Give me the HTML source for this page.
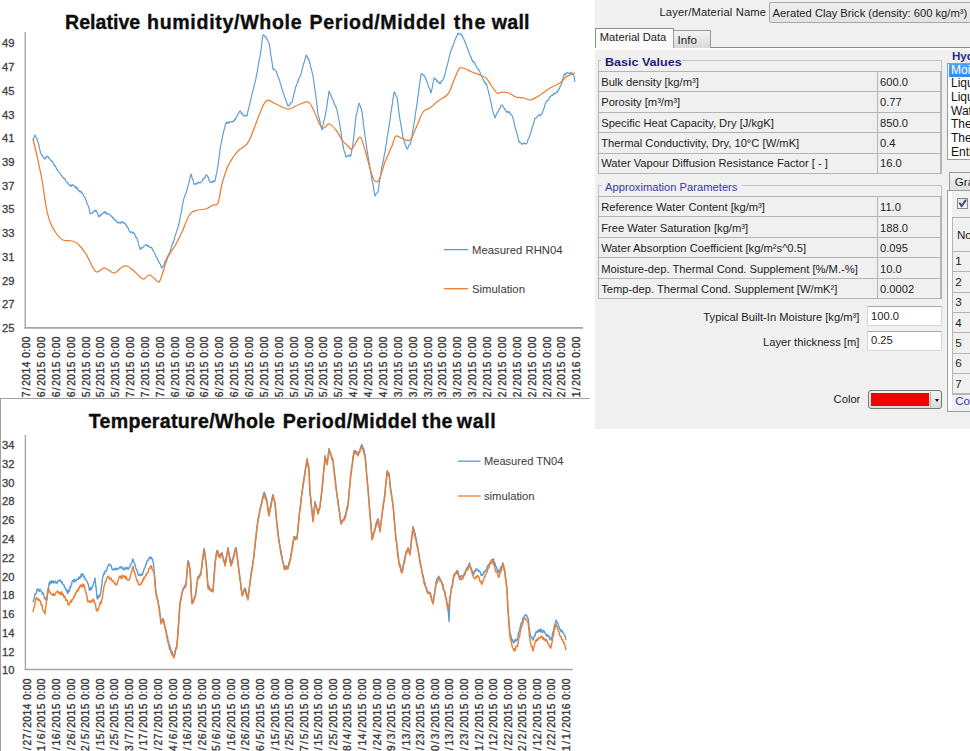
<!DOCTYPE html>
<html><head><meta charset="utf-8"><title>Charts and material dialog</title>
<style>
html,body{margin:0;padding:0;background:#fff;width:970px;height:751px;overflow:hidden;}
body{position:relative;font-family:"Liberation Sans",sans-serif;}
#charts{position:absolute;left:0;top:0;}
.dlg{position:absolute;left:595px;top:0;width:375px;height:428.5px;background:#f0f0f0;overflow:hidden;font-size:11.2px;color:#1e1e1e;}
.a{position:absolute;white-space:nowrap;}
</style></head><body>
<svg id="charts" width="970" height="751" viewBox="0 0 970 751" font-family="Liberation Sans, sans-serif"><g id="upper">
<text x="65" y="29.3" font-size="19.6" stroke="#0d0d0d" stroke-width="0.35" font-weight="bold" fill="#0d0d0d" textLength="75.2" lengthAdjust="spacing">Relative</text>
<text x="147" y="29.3" font-size="19.6" stroke="#0d0d0d" stroke-width="0.35" font-weight="bold" fill="#0d0d0d" textLength="154.6" lengthAdjust="spacing">humidity/Whole</text>
<text x="309.5" y="29.3" font-size="19.6" stroke="#0d0d0d" stroke-width="0.35" font-weight="bold" fill="#0d0d0d" textLength="136.0" lengthAdjust="spacing">Period/Middel</text>
<text x="453.7" y="29.3" font-size="19.6" stroke="#0d0d0d" stroke-width="0.35" font-weight="bold" fill="#0d0d0d" textLength="31.6" lengthAdjust="spacing">the</text>
<text x="491.8" y="29.3" font-size="19.6" stroke="#0d0d0d" stroke-width="0.35" font-weight="bold" fill="#0d0d0d" textLength="37.7" lengthAdjust="spacing">wall</text>
<line x1="25.2" y1="32" x2="25.2" y2="328.5" stroke="#a6a6a6" stroke-width="1.4"/>
<line x1="24.5" y1="327.9" x2="583" y2="327.9" stroke="#a6a6a6" stroke-width="1.6"/>
<text x="14.5" y="47.3" font-size="11.2" fill="#404040" stroke="#404040" stroke-width="0.3" text-anchor="end">49</text>
<text x="14.5" y="71.0" font-size="11.2" fill="#404040" stroke="#404040" stroke-width="0.3" text-anchor="end">47</text>
<text x="14.5" y="94.7" font-size="11.2" fill="#404040" stroke="#404040" stroke-width="0.3" text-anchor="end">45</text>
<text x="14.5" y="118.5" font-size="11.2" fill="#404040" stroke="#404040" stroke-width="0.3" text-anchor="end">43</text>
<text x="14.5" y="142.2" font-size="11.2" fill="#404040" stroke="#404040" stroke-width="0.3" text-anchor="end">41</text>
<text x="14.5" y="165.9" font-size="11.2" fill="#404040" stroke="#404040" stroke-width="0.3" text-anchor="end">39</text>
<text x="14.5" y="189.6" font-size="11.2" fill="#404040" stroke="#404040" stroke-width="0.3" text-anchor="end">37</text>
<text x="14.5" y="213.3" font-size="11.2" fill="#404040" stroke="#404040" stroke-width="0.3" text-anchor="end">35</text>
<text x="14.5" y="237.1" font-size="11.2" fill="#404040" stroke="#404040" stroke-width="0.3" text-anchor="end">33</text>
<text x="14.5" y="260.8" font-size="11.2" fill="#404040" stroke="#404040" stroke-width="0.3" text-anchor="end">31</text>
<text x="14.5" y="284.5" font-size="11.2" fill="#404040" stroke="#404040" stroke-width="0.3" text-anchor="end">29</text>
<text x="14.5" y="308.2" font-size="11.2" fill="#404040" stroke="#404040" stroke-width="0.3" text-anchor="end">27</text>
<text x="14.5" y="331.9" font-size="11.2" fill="#404040" stroke="#404040" stroke-width="0.3" text-anchor="end">25</text>
<text transform="translate(30.0,336) rotate(-90)" font-size="10.2" letter-spacing="0.5" fill="#383838" stroke="#383838" stroke-width="0.35" text-anchor="end">12<tspan dx="1.0">/</tspan><tspan dx="1.0">27</tspan><tspan dx="1.0">/</tspan><tspan dx="1.0">2014</tspan> 0:00</text>
<text transform="translate(44.9,336) rotate(-90)" font-size="10.2" letter-spacing="0.5" fill="#383838" stroke="#383838" stroke-width="0.35" text-anchor="end">1<tspan dx="1.0">/</tspan><tspan dx="1.0">6</tspan><tspan dx="1.0">/</tspan><tspan dx="1.0">2015</tspan> 0:00</text>
<text transform="translate(59.7,336) rotate(-90)" font-size="10.2" letter-spacing="0.5" fill="#383838" stroke="#383838" stroke-width="0.35" text-anchor="end">1<tspan dx="1.0">/</tspan><tspan dx="1.0">16</tspan><tspan dx="1.0">/</tspan><tspan dx="1.0">2015</tspan> 0:00</text>
<text transform="translate(74.6,336) rotate(-90)" font-size="10.2" letter-spacing="0.5" fill="#383838" stroke="#383838" stroke-width="0.35" text-anchor="end">1<tspan dx="1.0">/</tspan><tspan dx="1.0">26</tspan><tspan dx="1.0">/</tspan><tspan dx="1.0">2015</tspan> 0:00</text>
<text transform="translate(89.5,336) rotate(-90)" font-size="10.2" letter-spacing="0.5" fill="#383838" stroke="#383838" stroke-width="0.35" text-anchor="end">2<tspan dx="1.0">/</tspan><tspan dx="1.0">5</tspan><tspan dx="1.0">/</tspan><tspan dx="1.0">2015</tspan> 0:00</text>
<text transform="translate(104.4,336) rotate(-90)" font-size="10.2" letter-spacing="0.5" fill="#383838" stroke="#383838" stroke-width="0.35" text-anchor="end">2<tspan dx="1.0">/</tspan><tspan dx="1.0">15</tspan><tspan dx="1.0">/</tspan><tspan dx="1.0">2015</tspan> 0:00</text>
<text transform="translate(119.2,336) rotate(-90)" font-size="10.2" letter-spacing="0.5" fill="#383838" stroke="#383838" stroke-width="0.35" text-anchor="end">2<tspan dx="1.0">/</tspan><tspan dx="1.0">25</tspan><tspan dx="1.0">/</tspan><tspan dx="1.0">2015</tspan> 0:00</text>
<text transform="translate(134.1,336) rotate(-90)" font-size="10.2" letter-spacing="0.5" fill="#383838" stroke="#383838" stroke-width="0.35" text-anchor="end">3<tspan dx="1.0">/</tspan><tspan dx="1.0">7</tspan><tspan dx="1.0">/</tspan><tspan dx="1.0">2015</tspan> 0:00</text>
<text transform="translate(149.0,336) rotate(-90)" font-size="10.2" letter-spacing="0.5" fill="#383838" stroke="#383838" stroke-width="0.35" text-anchor="end">3<tspan dx="1.0">/</tspan><tspan dx="1.0">17</tspan><tspan dx="1.0">/</tspan><tspan dx="1.0">2015</tspan> 0:00</text>
<text transform="translate(163.8,336) rotate(-90)" font-size="10.2" letter-spacing="0.5" fill="#383838" stroke="#383838" stroke-width="0.35" text-anchor="end">3<tspan dx="1.0">/</tspan><tspan dx="1.0">27</tspan><tspan dx="1.0">/</tspan><tspan dx="1.0">2015</tspan> 0:00</text>
<text transform="translate(178.7,336) rotate(-90)" font-size="10.2" letter-spacing="0.5" fill="#383838" stroke="#383838" stroke-width="0.35" text-anchor="end">4<tspan dx="1.0">/</tspan><tspan dx="1.0">6</tspan><tspan dx="1.0">/</tspan><tspan dx="1.0">2015</tspan> 0:00</text>
<text transform="translate(193.6,336) rotate(-90)" font-size="10.2" letter-spacing="0.5" fill="#383838" stroke="#383838" stroke-width="0.35" text-anchor="end">4<tspan dx="1.0">/</tspan><tspan dx="1.0">16</tspan><tspan dx="1.0">/</tspan><tspan dx="1.0">2015</tspan> 0:00</text>
<text transform="translate(208.4,336) rotate(-90)" font-size="10.2" letter-spacing="0.5" fill="#383838" stroke="#383838" stroke-width="0.35" text-anchor="end">4<tspan dx="1.0">/</tspan><tspan dx="1.0">26</tspan><tspan dx="1.0">/</tspan><tspan dx="1.0">2015</tspan> 0:00</text>
<text transform="translate(223.3,336) rotate(-90)" font-size="10.2" letter-spacing="0.5" fill="#383838" stroke="#383838" stroke-width="0.35" text-anchor="end">5<tspan dx="1.0">/</tspan><tspan dx="1.0">6</tspan><tspan dx="1.0">/</tspan><tspan dx="1.0">2015</tspan> 0:00</text>
<text transform="translate(238.2,336) rotate(-90)" font-size="10.2" letter-spacing="0.5" fill="#383838" stroke="#383838" stroke-width="0.35" text-anchor="end">5<tspan dx="1.0">/</tspan><tspan dx="1.0">16</tspan><tspan dx="1.0">/</tspan><tspan dx="1.0">2015</tspan> 0:00</text>
<text transform="translate(253.1,336) rotate(-90)" font-size="10.2" letter-spacing="0.5" fill="#383838" stroke="#383838" stroke-width="0.35" text-anchor="end">5<tspan dx="1.0">/</tspan><tspan dx="1.0">26</tspan><tspan dx="1.0">/</tspan><tspan dx="1.0">2015</tspan> 0:00</text>
<text transform="translate(267.9,336) rotate(-90)" font-size="10.2" letter-spacing="0.5" fill="#383838" stroke="#383838" stroke-width="0.35" text-anchor="end">6<tspan dx="1.0">/</tspan><tspan dx="1.0">5</tspan><tspan dx="1.0">/</tspan><tspan dx="1.0">2015</tspan> 0:00</text>
<text transform="translate(282.8,336) rotate(-90)" font-size="10.2" letter-spacing="0.5" fill="#383838" stroke="#383838" stroke-width="0.35" text-anchor="end">6<tspan dx="1.0">/</tspan><tspan dx="1.0">15</tspan><tspan dx="1.0">/</tspan><tspan dx="1.0">2015</tspan> 0:00</text>
<text transform="translate(297.7,336) rotate(-90)" font-size="10.2" letter-spacing="0.5" fill="#383838" stroke="#383838" stroke-width="0.35" text-anchor="end">6<tspan dx="1.0">/</tspan><tspan dx="1.0">25</tspan><tspan dx="1.0">/</tspan><tspan dx="1.0">2015</tspan> 0:00</text>
<text transform="translate(312.5,336) rotate(-90)" font-size="10.2" letter-spacing="0.5" fill="#383838" stroke="#383838" stroke-width="0.35" text-anchor="end">7<tspan dx="1.0">/</tspan><tspan dx="1.0">5</tspan><tspan dx="1.0">/</tspan><tspan dx="1.0">2015</tspan> 0:00</text>
<text transform="translate(327.4,336) rotate(-90)" font-size="10.2" letter-spacing="0.5" fill="#383838" stroke="#383838" stroke-width="0.35" text-anchor="end">7<tspan dx="1.0">/</tspan><tspan dx="1.0">15</tspan><tspan dx="1.0">/</tspan><tspan dx="1.0">2015</tspan> 0:00</text>
<text transform="translate(342.3,336) rotate(-90)" font-size="10.2" letter-spacing="0.5" fill="#383838" stroke="#383838" stroke-width="0.35" text-anchor="end">7<tspan dx="1.0">/</tspan><tspan dx="1.0">25</tspan><tspan dx="1.0">/</tspan><tspan dx="1.0">2015</tspan> 0:00</text>
<text transform="translate(357.1,336) rotate(-90)" font-size="10.2" letter-spacing="0.5" fill="#383838" stroke="#383838" stroke-width="0.35" text-anchor="end">8<tspan dx="1.0">/</tspan><tspan dx="1.0">4</tspan><tspan dx="1.0">/</tspan><tspan dx="1.0">2015</tspan> 0:00</text>
<text transform="translate(372.0,336) rotate(-90)" font-size="10.2" letter-spacing="0.5" fill="#383838" stroke="#383838" stroke-width="0.35" text-anchor="end">8<tspan dx="1.0">/</tspan><tspan dx="1.0">14</tspan><tspan dx="1.0">/</tspan><tspan dx="1.0">2015</tspan> 0:00</text>
<text transform="translate(386.9,336) rotate(-90)" font-size="10.2" letter-spacing="0.5" fill="#383838" stroke="#383838" stroke-width="0.35" text-anchor="end">8<tspan dx="1.0">/</tspan><tspan dx="1.0">24</tspan><tspan dx="1.0">/</tspan><tspan dx="1.0">2015</tspan> 0:00</text>
<text transform="translate(401.8,336) rotate(-90)" font-size="10.2" letter-spacing="0.5" fill="#383838" stroke="#383838" stroke-width="0.35" text-anchor="end">9<tspan dx="1.0">/</tspan><tspan dx="1.0">3</tspan><tspan dx="1.0">/</tspan><tspan dx="1.0">2015</tspan> 0:00</text>
<text transform="translate(416.6,336) rotate(-90)" font-size="10.2" letter-spacing="0.5" fill="#383838" stroke="#383838" stroke-width="0.35" text-anchor="end">9<tspan dx="1.0">/</tspan><tspan dx="1.0">13</tspan><tspan dx="1.0">/</tspan><tspan dx="1.0">2015</tspan> 0:00</text>
<text transform="translate(431.5,336) rotate(-90)" font-size="10.2" letter-spacing="0.5" fill="#383838" stroke="#383838" stroke-width="0.35" text-anchor="end">9<tspan dx="1.0">/</tspan><tspan dx="1.0">23</tspan><tspan dx="1.0">/</tspan><tspan dx="1.0">2015</tspan> 0:00</text>
<text transform="translate(446.4,336) rotate(-90)" font-size="10.2" letter-spacing="0.5" fill="#383838" stroke="#383838" stroke-width="0.35" text-anchor="end">10<tspan dx="1.0">/</tspan><tspan dx="1.0">3</tspan><tspan dx="1.0">/</tspan><tspan dx="1.0">2015</tspan> 0:00</text>
<text transform="translate(461.2,336) rotate(-90)" font-size="10.2" letter-spacing="0.5" fill="#383838" stroke="#383838" stroke-width="0.35" text-anchor="end">10<tspan dx="1.0">/</tspan><tspan dx="1.0">13</tspan><tspan dx="1.0">/</tspan><tspan dx="1.0">2015</tspan> 0:00</text>
<text transform="translate(476.1,336) rotate(-90)" font-size="10.2" letter-spacing="0.5" fill="#383838" stroke="#383838" stroke-width="0.35" text-anchor="end">10<tspan dx="1.0">/</tspan><tspan dx="1.0">23</tspan><tspan dx="1.0">/</tspan><tspan dx="1.0">2015</tspan> 0:00</text>
<text transform="translate(491.0,336) rotate(-90)" font-size="10.2" letter-spacing="0.5" fill="#383838" stroke="#383838" stroke-width="0.35" text-anchor="end">11<tspan dx="1.0">/</tspan><tspan dx="1.0">2</tspan><tspan dx="1.0">/</tspan><tspan dx="1.0">2015</tspan> 0:00</text>
<text transform="translate(505.8,336) rotate(-90)" font-size="10.2" letter-spacing="0.5" fill="#383838" stroke="#383838" stroke-width="0.35" text-anchor="end">11<tspan dx="1.0">/</tspan><tspan dx="1.0">12</tspan><tspan dx="1.0">/</tspan><tspan dx="1.0">2015</tspan> 0:00</text>
<text transform="translate(520.7,336) rotate(-90)" font-size="10.2" letter-spacing="0.5" fill="#383838" stroke="#383838" stroke-width="0.35" text-anchor="end">11<tspan dx="1.0">/</tspan><tspan dx="1.0">22</tspan><tspan dx="1.0">/</tspan><tspan dx="1.0">2015</tspan> 0:00</text>
<text transform="translate(535.6,336) rotate(-90)" font-size="10.2" letter-spacing="0.5" fill="#383838" stroke="#383838" stroke-width="0.35" text-anchor="end">12<tspan dx="1.0">/</tspan><tspan dx="1.0">2</tspan><tspan dx="1.0">/</tspan><tspan dx="1.0">2015</tspan> 0:00</text>
<text transform="translate(550.5,336) rotate(-90)" font-size="10.2" letter-spacing="0.5" fill="#383838" stroke="#383838" stroke-width="0.35" text-anchor="end">12<tspan dx="1.0">/</tspan><tspan dx="1.0">12</tspan><tspan dx="1.0">/</tspan><tspan dx="1.0">2015</tspan> 0:00</text>
<text transform="translate(565.3,336) rotate(-90)" font-size="10.2" letter-spacing="0.5" fill="#383838" stroke="#383838" stroke-width="0.35" text-anchor="end">12<tspan dx="1.0">/</tspan><tspan dx="1.0">22</tspan><tspan dx="1.0">/</tspan><tspan dx="1.0">2015</tspan> 0:00</text>
<text transform="translate(580.2,336) rotate(-90)" font-size="10.2" letter-spacing="0.5" fill="#383838" stroke="#383838" stroke-width="0.35" text-anchor="end">1<tspan dx="1.0">/</tspan><tspan dx="1.0">1</tspan><tspan dx="1.0">/</tspan><tspan dx="1.0">2016</tspan> 0:00</text>
<path d="M33.0,140.0 L33.5,138.3 L34.0,137.6 L34.5,136.0 L35.0,135.0 L35.5,136.4 L36.0,137.6 L36.5,137.7 L37.0,138.8 L37.5,141.4 L38.0,142.0 L38.5,143.6 L39.0,145.5 L39.5,148.9 L40.0,149.9 L40.5,152.6 L41.0,154.0 L41.5,154.6 L42.0,155.5 L42.5,155.2 L43.0,156.7 L43.5,157.8 L44.0,157.8 L44.5,158.8 L45.0,159.0 L45.5,158.6 L46.0,156.7 L46.5,157.2 L47.0,156.0 L47.5,156.7 L48.0,156.6 L48.5,156.7 L49.0,158.7 L49.5,158.5 L50.0,159.4 L50.5,160.2 L51.0,160.4 L51.5,161.3 L52.0,161.0 L52.5,161.6 L53.0,163.2 L53.5,163.4 L54.0,165.1 L54.5,165.8 L55.0,165.3 L55.5,166.2 L56.0,167.2 L56.5,169.3 L57.0,169.2 L57.5,170.4 L58.0,171.0 L58.5,171.2 L59.0,172.2 L59.5,172.5 L60.0,173.1 L60.5,174.1 L61.0,174.7 L61.5,175.8 L62.0,176.0 L62.5,177.0 L63.0,177.5 L63.5,178.3 L64.0,178.0 L64.5,179.0 L65.0,178.7 L65.5,180.6 L66.0,181.5 L66.5,182.1 L67.0,182.1 L67.5,183.1 L68.0,182.8 L68.5,184.6 L69.0,184.8 L69.5,184.9 L70.0,186.0 L70.5,185.0 L71.0,186.3 L71.5,186.4 L72.0,184.6 L72.5,185.7 L73.0,185.0 L73.5,185.3 L74.0,185.3 L74.5,186.0 L75.0,187.3 L75.5,187.9 L76.0,186.8 L76.5,188.3 L77.0,187.7 L77.5,189.4 L78.0,189.1 L78.5,190.6 L79.0,191.2 L79.5,190.8 L80.0,192.1 L80.5,191.3 L81.0,191.3 L81.5,192.7 L82.0,193.0 L82.5,193.0 L83.0,194.2 L83.5,195.5 L84.0,196.7 L84.5,196.8 L85.0,197.4 L85.5,199.8 L86.0,200.0 L86.5,201.0 L87.0,203.5 L87.5,204.7 L88.0,205.1 L88.5,206.6 L89.0,208.0 L89.5,211.0 L90.0,214.0 L90.5,213.9 L91.0,213.5 L91.5,213.1 L92.0,212.9 L92.5,213.1 L93.0,212.0 L93.5,211.5 L94.0,211.7 L94.5,210.5 L95.0,210.3 L95.5,211.2 L96.0,210.0 L96.5,211.2 L97.0,212.4 L97.5,212.6 L98.0,214.5 L98.5,216.0 L99.0,217.0 L99.5,215.6 L100.0,216.2 L100.5,215.7 L101.0,214.2 L101.5,214.7 L102.0,213.9 L102.5,213.8 L103.0,212.7 L103.5,212.9 L104.0,212.0 L104.5,212.7 L105.0,211.6 L105.5,212.0 L106.0,213.3 L106.5,214.1 L107.0,213.1 L107.5,213.7 L108.0,214.2 L108.5,213.9 L109.0,214.3 L109.5,214.4 L110.0,215.0 L110.5,215.3 L111.0,216.2 L111.5,216.1 L112.0,216.8 L112.5,218.0 L113.0,217.1 L113.5,218.6 L114.0,219.4 L114.5,219.2 L115.0,219.5 L115.5,221.0 L116.0,220.5 L116.5,220.9 L117.0,221.9 L117.5,222.9 L118.0,223.0 L118.5,222.2 L119.0,222.5 L119.5,222.4 L120.0,223.2 L120.5,222.4 L121.0,223.0 L121.5,221.7 L122.0,221.9 L122.5,222.4 L123.0,222.0 L123.5,223.2 L124.0,222.9 L124.5,223.0 L125.0,223.3 L125.5,224.6 L126.0,224.4 L126.5,226.1 L127.0,226.0 L127.5,227.6 L128.0,227.4 L128.5,228.6 L129.0,230.6 L129.5,231.3 L130.0,232.0 L130.5,232.7 L131.0,232.0 L131.5,231.7 L132.0,232.1 L132.5,233.2 L133.0,232.3 L133.5,232.6 L134.0,233.0 L134.5,233.9 L135.0,234.9 L135.5,235.8 L136.0,237.8 L136.5,237.4 L137.0,238.1 L137.5,240.8 L138.0,241.0 L138.5,243.7 L139.0,245.9 L139.5,246.9 L140.0,249.0 L140.5,249.5 L141.0,249.1 L141.5,247.5 L142.0,248.1 L142.5,247.9 L143.0,247.3 L143.5,246.7 L144.0,246.0 L144.5,245.7 L145.0,245.2 L145.5,244.6 L146.0,245.0 L146.5,245.4 L147.0,245.0 L147.5,246.2 L148.0,245.0 L148.5,246.7 L149.0,246.5 L149.5,247.2 L150.0,247.3 L150.5,247.5 L151.0,247.0 L151.5,248.0 L152.0,247.9 L152.5,250.1 L153.0,249.9 L153.5,251.0 L154.0,252.5 L154.5,253.2 L155.0,254.0 L155.5,254.8 L156.0,256.8 L156.5,257.2 L157.0,257.7 L157.5,258.6 L158.0,260.7 L158.5,261.0 L159.0,262.0 L159.5,263.5 L160.0,263.7 L160.5,264.5 L161.0,266.1 L161.5,267.6 L162.0,268.0 L162.5,266.4 L163.0,266.5 L163.5,265.8 L164.0,264.6 L164.5,263.6 L165.0,261.1 L165.5,261.2 L166.0,260.0 L166.5,259.7 L167.0,257.2 L167.5,256.6 L168.0,255.6 L168.5,255.0 L169.0,253.9 L169.5,253.0 L170.0,252.0 L170.5,251.0 L171.0,248.1 L171.5,246.7 L172.0,245.3 L172.5,243.8 L173.0,242.2 L173.5,242.4 L174.0,240.0 L174.5,239.0 L175.0,236.1 L175.5,235.2 L176.0,233.3 L176.5,231.7 L177.0,230.1 L177.5,229.1 L178.0,227.4 L178.5,225.3 L179.0,224.0 L179.5,220.8 L180.0,218.5 L180.5,215.5 L181.0,213.7 L181.5,211.4 L182.0,208.2 L182.5,205.0 L183.0,202.6 L183.5,200.4 L184.0,198.0 L184.5,196.9 L185.0,195.8 L185.5,193.8 L186.0,193.2 L186.5,191.6 L187.0,190.0 L187.5,187.9 L188.0,185.8 L188.5,184.0 L189.0,182.4 L189.5,179.9 L190.0,178.3 L190.5,175.9 L191.0,174.0 L191.5,175.2 L192.0,177.4 L192.5,179.4 L193.0,179.9 L193.5,182.2 L194.0,184.0 L194.5,183.7 L195.0,184.4 L195.5,184.4 L196.0,183.2 L196.5,184.0 L197.0,183.7 L197.5,182.6 L198.0,182.8 L198.5,182.0 L199.0,183.1 L199.5,182.7 L200.0,183.0 L200.5,182.7 L201.0,182.0 L201.5,181.7 L202.0,181.3 L202.5,180.4 L203.0,179.0 L203.5,179.2 L204.0,177.6 L204.5,177.3 L205.0,177.8 L205.5,175.9 L206.0,175.4 L206.5,174.9 L207.0,175.0 L207.5,176.9 L208.0,176.8 L208.5,177.6 L209.0,180.3 L209.5,180.2 L210.0,182.0 L210.5,182.5 L211.0,182.1 L211.5,182.3 L212.0,182.4 L212.5,181.6 L213.0,181.9 L213.5,180.5 L214.0,181.7 L214.5,181.1 L215.0,181.0 L215.5,178.9 L216.0,175.3 L216.5,173.9 L217.0,171.8 L217.5,167.7 L218.0,166.0 L218.5,161.7 L219.0,158.1 L219.5,154.6 L220.0,150.0 L220.5,146.9 L221.0,144.1 L221.5,141.5 L222.0,139.5 L222.5,137.1 L223.0,134.0 L223.5,132.0 L224.0,130.1 L224.5,128.3 L225.0,126.4 L225.5,124.7 L226.0,123.0 L226.5,122.1 L227.0,122.8 L227.5,123.5 L228.0,122.3 L228.5,122.8 L229.0,121.6 L229.5,122.5 L230.0,122.0 L230.5,122.3 L231.0,122.1 L231.5,121.7 L232.0,121.5 L232.5,121.6 L233.0,122.0 L233.5,120.5 L234.0,121.0 L234.5,119.4 L235.0,119.8 L235.5,119.2 L236.0,117.7 L236.5,116.7 L237.0,116.4 L237.5,114.6 L238.0,113.9 L238.5,113.0 L239.0,112.8 L239.5,111.5 L240.0,111.0 L240.5,111.1 L241.0,112.6 L241.5,113.7 L242.0,113.1 L242.5,114.5 L243.0,114.6 L243.5,116.0 L244.0,116.0 L244.5,116.2 L245.0,115.6 L245.5,115.5 L246.0,115.1 L246.5,116.0 L247.0,116.0 L247.5,113.6 L248.0,111.0 L248.5,109.1 L249.0,106.9 L249.5,105.5 L250.0,102.2 L250.5,101.5 L251.0,98.4 L251.5,96.4 L252.0,94.0 L252.5,91.9 L253.0,90.6 L253.5,88.6 L254.0,86.1 L254.5,84.0 L255.0,82.4 L255.5,80.6 L256.0,78.0 L256.5,75.1 L257.0,72.9 L257.5,70.6 L258.0,66.9 L258.5,63.8 L259.0,61.0 L259.5,59.1 L260.0,56.0 L260.5,52.8 L261.0,49.8 L261.5,46.1 L262.0,41.5 L262.5,37.9 L263.0,35.0 L263.5,34.9 L264.0,35.1 L264.5,36.4 L265.0,37.0 L265.5,37.4 L266.0,37.0 L266.5,37.6 L267.0,39.7 L267.5,39.7 L268.0,40.9 L268.5,42.4 L269.0,43.0 L269.5,45.5 L270.0,48.8 L270.5,53.4 L271.0,56.0 L271.5,58.9 L272.0,62.2 L272.5,65.9 L273.0,69.0 L273.5,69.6 L274.0,68.8 L274.5,69.7 L275.0,70.2 L275.5,70.6 L276.0,71.0 L276.5,71.9 L277.0,73.9 L277.5,75.9 L278.0,76.3 L278.5,78.0 L279.0,78.6 L279.5,80.2 L280.0,82.0 L280.5,84.0 L281.0,84.6 L281.5,87.7 L282.0,89.4 L282.5,89.6 L283.0,92.0 L283.5,94.2 L284.0,94.6 L284.5,96.7 L285.0,98.1 L285.5,98.6 L286.0,100.7 L286.5,102.1 L287.0,103.8 L287.5,104.2 L288.0,106.0 L288.5,106.0 L289.0,105.8 L289.5,104.8 L290.0,104.1 L290.5,102.8 L291.0,103.0 L291.5,102.2 L292.0,102.0 L292.5,100.4 L293.0,98.3 L293.5,96.1 L294.0,93.4 L294.5,92.3 L295.0,90.2 L295.5,87.4 L296.0,86.0 L296.5,85.5 L297.0,83.9 L297.5,81.7 L298.0,82.0 L298.5,79.4 L299.0,78.5 L299.5,78.0 L300.0,76.6 L300.5,75.3 L301.0,74.0 L301.5,72.4 L302.0,70.1 L302.5,68.0 L303.0,65.8 L303.5,63.7 L304.0,63.0 L304.5,61.2 L305.0,58.9 L305.5,57.3 L306.0,55.0 L306.5,55.6 L307.0,56.2 L307.5,57.3 L308.0,59.0 L308.5,58.3 L309.0,60.0 L309.5,62.0 L310.0,63.5 L310.5,66.5 L311.0,67.7 L311.5,69.7 L312.0,71.8 L312.5,74.1 L313.0,76.0 L313.5,80.0 L314.0,82.7 L314.5,87.1 L315.0,90.0 L315.5,93.3 L316.0,97.6 L316.5,101.3 L317.0,105.3 L317.5,110.5 L318.0,114.0 L318.5,116.4 L319.0,117.4 L319.5,119.4 L320.0,121.8 L320.5,124.4 L321.0,126.6 L321.5,128.4 L322.0,130.0 L322.5,127.9 L323.0,124.9 L323.5,123.1 L324.0,120.4 L324.5,118.8 L325.0,116.6 L325.5,113.7 L326.0,112.0 L326.5,108.1 L327.0,105.5 L327.5,100.7 L328.0,98.5 L328.5,95.2 L329.0,91.0 L329.5,92.9 L330.0,93.0 L330.5,94.5 L331.0,95.6 L331.5,96.9 L332.0,98.6 L332.5,99.2 L333.0,100.0 L333.5,100.9 L334.0,103.1 L334.5,103.7 L335.0,105.2 L335.5,106.7 L336.0,106.6 L336.5,109.2 L337.0,110.0 L337.5,113.0 L338.0,115.3 L338.5,118.0 L339.0,120.6 L339.5,122.8 L340.0,126.0 L340.5,129.4 L341.0,131.8 L341.5,136.0 L342.0,139.6 L342.5,142.6 L343.0,146.0 L343.5,148.0 L344.0,150.5 L344.5,152.2 L345.0,152.7 L345.5,155.7 L346.0,157.0 L346.5,157.0 L347.0,155.8 L347.5,156.1 L348.0,155.7 L348.5,155.2 L349.0,155.9 L349.5,156.4 L350.0,155.1 L350.5,155.9 L351.0,155.0 L351.5,152.4 L352.0,148.3 L352.5,146.6 L353.0,143.0 L353.5,138.7 L354.0,134.8 L354.5,129.9 L355.0,125.4 L355.5,120.2 L356.0,116.0 L356.5,114.4 L357.0,112.4 L357.5,110.2 L358.0,107.2 L358.5,105.6 L359.0,103.0 L359.5,104.5 L360.0,105.3 L360.5,106.7 L361.0,108.2 L361.5,110.0 L362.0,112.0 L362.5,115.4 L363.0,120.0 L363.5,124.4 L364.0,128.1 L364.5,131.9 L365.0,136.0 L365.5,139.6 L366.0,142.3 L366.5,145.9 L367.0,149.8 L367.5,152.5 L368.0,156.0 L368.5,158.4 L369.0,162.7 L369.5,165.4 L370.0,167.8 L370.5,170.8 L371.0,174.1 L371.5,177.2 L372.0,180.0 L372.5,182.2 L373.0,184.4 L373.5,187.5 L374.0,191.2 L374.5,192.7 L375.0,196.0 L375.5,195.3 L376.0,194.1 L376.5,193.5 L377.0,192.7 L377.5,192.5 L378.0,192.0 L378.5,188.1 L379.0,184.5 L379.5,181.3 L380.0,178.1 L380.5,175.3 L381.0,172.0 L381.5,168.7 L382.0,166.1 L382.5,164.4 L383.0,161.8 L383.5,159.9 L384.0,156.2 L384.5,154.3 L385.0,152.0 L385.5,148.6 L386.0,144.7 L386.5,143.2 L387.0,138.7 L387.5,135.3 L388.0,132.8 L388.5,129.0 L389.0,126.6 L389.5,122.9 L390.0,120.0 L390.5,115.8 L391.0,112.2 L391.5,109.9 L392.0,105.6 L392.5,103.0 L393.0,98.9 L393.5,96.3 L394.0,92.0 L394.5,92.5 L395.0,93.2 L395.5,94.1 L396.0,95.9 L396.5,96.4 L397.0,97.0 L397.5,100.6 L398.0,103.9 L398.5,108.8 L399.0,113.2 L399.5,116.3 L400.0,120.0 L400.5,122.1 L401.0,125.2 L401.5,128.3 L402.0,131.4 L402.5,134.2 L403.0,138.0 L403.5,138.6 L404.0,141.0 L404.5,142.8 L405.0,143.0 L405.5,145.7 L406.0,146.2 L406.5,148.2 L407.0,149.0 L407.5,148.9 L408.0,148.0 L408.5,145.5 L409.0,145.1 L409.5,144.8 L410.0,144.6 L410.5,142.1 L411.0,142.0 L411.5,138.6 L412.0,136.6 L412.5,132.3 L413.0,129.8 L413.5,126.7 L414.0,124.0 L414.5,120.8 L415.0,117.8 L415.5,112.9 L416.0,110.4 L416.5,106.9 L417.0,103.6 L417.5,99.6 L418.0,96.0 L418.5,93.1 L419.0,88.4 L419.5,84.8 L420.0,80.8 L420.5,78.2 L421.0,74.0 L421.5,74.1 L422.0,73.9 L422.5,73.9 L423.0,75.1 L423.5,75.0 L424.0,75.0 L424.5,76.5 L425.0,77.1 L425.5,78.5 L426.0,79.0 L426.5,81.2 L427.0,82.0 L427.5,82.5 L428.0,84.7 L428.5,86.6 L429.0,87.8 L429.5,88.1 L430.0,89.8 L430.5,92.2 L431.0,93.0 L431.5,90.8 L432.0,88.7 L432.5,86.2 L433.0,82.9 L433.5,81.2 L434.0,78.0 L434.5,78.9 L435.0,78.7 L435.5,79.3 L436.0,79.2 L436.5,80.3 L437.0,81.8 L437.5,80.8 L438.0,82.0 L438.5,82.6 L439.0,82.3 L439.5,82.7 L440.0,84.0 L440.5,83.5 L441.0,82.0 L441.5,80.9 L442.0,80.4 L442.5,80.5 L443.0,79.7 L443.5,77.9 L444.0,78.0 L444.5,75.5 L445.0,74.8 L445.5,71.5 L446.0,70.1 L446.5,67.9 L447.0,66.0 L447.5,64.5 L448.0,62.2 L448.5,60.5 L449.0,58.1 L449.5,55.4 L450.0,54.0 L450.5,52.0 L451.0,50.4 L451.5,50.4 L452.0,47.7 L452.5,46.1 L453.0,46.4 L453.5,43.7 L454.0,43.5 L454.5,40.7 L455.0,40.0 L455.5,38.8 L456.0,37.2 L456.5,37.1 L457.0,35.5 L457.5,34.4 L458.0,33.0 L458.5,33.7 L459.0,34.2 L459.5,33.5 L460.0,34.2 L460.5,34.2 L461.0,33.8 L461.5,35.4 L462.0,35.0 L462.5,36.3 L463.0,37.9 L463.5,38.0 L464.0,39.7 L464.5,40.8 L465.0,42.0 L465.5,43.7 L466.0,43.9 L466.5,45.7 L467.0,47.3 L467.5,47.9 L468.0,50.0 L468.5,51.3 L469.0,52.9 L469.5,53.6 L470.0,55.3 L470.5,56.4 L471.0,57.0 L471.5,58.5 L472.0,60.0 L472.5,61.6 L473.0,61.0 L473.5,61.9 L474.0,61.9 L474.5,62.8 L475.0,64.0 L475.5,64.1 L476.0,66.3 L476.5,66.7 L477.0,67.7 L477.5,68.6 L478.0,68.7 L478.5,70.0 L479.0,70.0 L479.5,71.2 L480.0,72.1 L480.5,74.2 L481.0,75.2 L481.5,76.4 L482.0,76.7 L482.5,78.4 L483.0,79.0 L483.5,79.7 L484.0,81.6 L484.5,82.4 L485.0,82.1 L485.5,84.2 L486.0,83.7 L486.5,84.4 L487.0,86.0 L487.5,88.4 L488.0,89.6 L488.5,92.0 L489.0,94.3 L489.5,95.2 L490.0,98.0 L490.5,100.8 L491.0,102.3 L491.5,104.9 L492.0,107.1 L492.5,110.1 L493.0,112.0 L493.5,113.9 L494.0,114.6 L494.5,115.8 L495.0,118.0 L495.5,116.5 L496.0,115.6 L496.5,113.9 L497.0,112.9 L497.5,112.8 L498.0,111.6 L498.5,111.0 L499.0,109.0 L499.5,109.2 L500.0,108.3 L500.5,106.8 L501.0,105.7 L501.5,105.3 L502.0,105.0 L502.5,105.7 L503.0,106.5 L503.5,107.3 L504.0,107.7 L504.5,109.4 L505.0,109.1 L505.5,110.2 L506.0,111.0 L506.5,111.9 L507.0,112.1 L507.5,111.4 L508.0,111.5 L508.5,112.8 L509.0,111.6 L509.5,112.1 L510.0,113.0 L510.5,113.9 L511.0,114.7 L511.5,114.9 L512.0,115.5 L512.5,116.6 L513.0,118.0 L513.5,120.5 L514.0,121.9 L514.5,124.9 L515.0,126.5 L515.5,128.9 L516.0,130.0 L516.5,131.2 L517.0,133.4 L517.5,135.1 L518.0,137.9 L518.5,139.7 L519.0,142.0 L519.5,141.5 L520.0,142.7 L520.5,142.3 L521.0,143.0 L521.5,143.2 L522.0,144.0 L522.5,144.4 L523.0,143.7 L523.5,143.3 L524.0,142.8 L524.5,143.4 L525.0,143.6 L525.5,143.6 L526.0,143.9 L526.5,143.7 L527.0,143.0 L527.5,141.2 L528.0,139.6 L528.5,139.3 L529.0,138.0 L529.5,136.1 L530.0,135.3 L530.5,133.5 L531.0,132.0 L531.5,129.9 L532.0,127.9 L532.5,125.9 L533.0,125.3 L533.5,124.0 L534.0,122.2 L534.5,119.7 L535.0,118.0 L535.5,118.0 L536.0,118.1 L536.5,117.6 L537.0,116.9 L537.5,116.2 L538.0,116.0 L538.5,115.8 L539.0,114.9 L539.5,114.7 L540.0,115.3 L540.5,115.6 L541.0,114.6 L541.5,114.1 L542.0,114.0 L542.5,112.2 L543.0,110.9 L543.5,110.0 L544.0,107.9 L544.5,107.3 L545.0,104.4 L545.5,103.2 L546.0,102.0 L546.5,101.4 L547.0,100.6 L547.5,100.8 L548.0,100.2 L548.5,99.8 L549.0,98.6 L549.5,97.0 L550.0,97.3 L550.5,96.7 L551.0,96.0 L551.5,95.6 L552.0,94.9 L552.5,95.3 L553.0,95.3 L553.5,93.5 L554.0,94.2 L554.5,93.3 L555.0,93.2 L555.5,93.5 L556.0,93.3 L556.5,92.3 L557.0,91.2 L557.5,92.1 L558.0,91.0 L558.5,89.4 L559.0,88.8 L559.5,88.6 L560.0,86.7 L560.5,85.6 L561.0,85.0 L561.5,84.1 L562.0,82.5 L562.5,79.7 L563.0,78.1 L563.5,76.3 L564.0,75.0 L564.5,74.1 L565.0,74.1 L565.5,75.1 L566.0,73.2 L566.5,73.3 L567.0,73.0 L567.5,72.5 L568.0,73.0 L568.5,73.0 L569.0,73.4 L569.5,73.6 L570.0,73.2 L570.5,73.6 L571.0,72.1 L571.5,72.6 L572.0,73.0 L572.5,74.6 L573.0,73.7 L573.5,74.8 L574.0,76.0 L574.5,79.0 L575.0,82.0" fill="none" stroke="#5b9bd5" stroke-width="1.15" stroke-linejoin="round"/>
<path d="M33.0,139.0 C33.7,141.8 35.5,149.2 37.0,156.0 C38.5,162.8 40.5,171.7 42.0,180.0 C43.5,188.3 44.7,199.0 46.0,206.0 C47.3,213.0 48.3,217.5 50.0,222.0 C51.7,226.5 53.8,230.0 56.0,233.0 C58.2,236.0 60.3,238.7 63.0,240.0 C65.7,241.3 69.5,240.3 72.0,241.0 C74.5,241.7 75.7,241.8 78.0,244.0 C80.3,246.2 83.7,250.3 86.0,254.0 C88.3,257.7 90.2,263.0 92.0,266.0 C93.8,269.0 94.8,271.7 97.0,272.0 C99.2,272.3 102.2,267.8 105.0,268.0 C107.8,268.2 111.2,273.2 114.0,273.0 C116.8,272.8 119.8,268.2 122.0,267.0 C124.2,265.8 125.2,265.5 127.0,266.0 C128.8,266.5 130.8,268.2 133.0,270.0 C135.2,271.8 138.2,275.5 140.0,277.0 C141.8,278.5 142.5,279.3 144.0,279.0 C145.5,278.7 147.3,275.2 149.0,275.0 C150.7,274.8 152.3,276.8 154.0,278.0 C155.7,279.2 157.5,283.0 159.0,282.0 C160.5,281.0 161.5,276.2 163.0,272.0 C164.5,267.8 165.8,261.7 168.0,257.0 C170.2,252.3 173.7,248.2 176.0,244.0 C178.3,239.8 179.7,237.0 182.0,232.0 C184.3,227.0 187.3,217.7 190.0,214.0 C192.7,210.3 195.3,210.8 198.0,210.0 C200.7,209.2 203.5,209.8 206.0,209.0 C208.5,208.2 211.0,206.0 213.0,205.0 C215.0,204.0 216.5,206.5 218.0,203.0 C219.5,199.5 220.3,190.2 222.0,184.0 C223.7,177.8 226.0,170.7 228.0,166.0 C230.0,161.3 232.2,158.7 234.0,156.0 C235.8,153.3 236.8,152.0 239.0,150.0 C241.2,148.0 244.8,146.7 247.0,144.0 C249.2,141.3 250.2,138.3 252.0,134.0 C253.8,129.7 256.0,123.0 258.0,118.0 C260.0,113.0 262.3,107.0 264.0,104.0 C265.7,101.0 266.0,100.0 268.0,100.0 C270.0,100.0 272.7,102.5 276.0,104.0 C279.3,105.5 284.3,108.8 288.0,109.0 C291.7,109.2 294.7,106.2 298.0,105.0 C301.3,103.8 305.3,101.0 308.0,102.0 C310.7,103.0 312.0,107.2 314.0,111.0 C316.0,114.8 318.3,122.2 320.0,125.0 C321.7,127.8 322.5,128.2 324.0,128.0 C325.5,127.8 327.0,123.7 329.0,124.0 C331.0,124.3 333.8,127.3 336.0,130.0 C338.2,132.7 340.0,137.3 342.0,140.0 C344.0,142.7 346.3,144.5 348.0,146.0 C349.7,147.5 350.3,150.2 352.0,149.0 C353.7,147.8 356.5,140.8 358.0,139.0 C359.5,137.2 359.8,136.2 361.0,138.0 C362.2,139.8 363.5,145.0 365.0,150.0 C366.5,155.0 368.5,163.0 370.0,168.0 C371.5,173.0 372.5,178.0 374.0,180.0 C375.5,182.0 377.2,183.0 379.0,180.0 C380.8,177.0 382.8,167.7 385.0,162.0 C387.2,156.3 390.2,150.3 392.0,146.0 C393.8,141.7 394.2,137.2 396.0,136.0 C397.8,134.8 400.7,138.3 403.0,139.0 C405.3,139.7 407.8,141.8 410.0,140.0 C412.2,138.2 413.8,132.7 416.0,128.0 C418.2,123.3 420.7,115.3 423.0,112.0 C425.3,108.7 427.5,109.8 430.0,108.0 C432.5,106.2 435.0,103.3 438.0,101.0 C441.0,98.7 445.3,97.5 448.0,94.0 C450.7,90.5 452.2,84.2 454.0,80.0 C455.8,75.8 457.5,71.0 459.0,69.0 C460.5,67.0 460.8,67.5 463.0,68.0 C465.2,68.5 469.2,70.8 472.0,72.0 C474.8,73.2 477.7,74.0 480.0,75.0 C482.3,76.0 484.2,76.3 486.0,78.0 C487.8,79.7 489.2,82.5 491.0,85.0 C492.8,87.5 495.2,91.8 497.0,93.0 C498.8,94.2 500.0,92.0 502.0,92.0 C504.0,92.0 506.7,92.2 509.0,93.0 C511.3,93.8 513.5,96.2 516.0,97.0 C518.5,97.8 521.5,97.5 524.0,98.0 C526.5,98.5 528.3,100.5 531.0,100.0 C533.7,99.5 536.8,97.0 540.0,95.0 C543.2,93.0 546.7,90.0 550.0,88.0 C553.3,86.0 557.3,84.8 560.0,83.0 C562.7,81.2 564.0,78.5 566.0,77.0 C568.0,75.5 570.5,74.7 572.0,74.0 C573.5,73.3 574.5,73.2 575.0,73.0" fill="none" stroke="#ed7d31" stroke-width="1.25" stroke-linejoin="round"/>
<line x1="444" y1="249.6" x2="468.3" y2="249.6" stroke="#5b9bd5" stroke-width="1.3"/>
<text x="472" y="254" font-size="11.2" fill="#404040" stroke="#404040" stroke-width="0.05" textLength="90.6" lengthAdjust="spacingAndGlyphs">Measured RHN04</text>
<line x1="444" y1="288.7" x2="468.3" y2="288.7" stroke="#ed7d31" stroke-width="1.3"/>
<text x="472" y="293" font-size="11.2" fill="#404040" stroke="#404040" stroke-width="0.05" textLength="53" lengthAdjust="spacingAndGlyphs">Simulation</text>
</g>
<g id="lower">
<rect x="0" y="398" width="970" height="353" fill="#fff"/>
<line x1="0" y1="398.5" x2="590" y2="398.5" stroke="#a0a0a0" stroke-width="1"/>
<line x1="0.5" y1="398" x2="0.5" y2="751" stroke="#a0a0a0" stroke-width="1"/>
<text x="88.7" y="428" font-size="19.6" stroke="#0d0d0d" stroke-width="0.35" font-weight="bold" fill="#0d0d0d" textLength="186.1" lengthAdjust="spacing">Temperature/Whole</text>
<text x="282.8" y="428" font-size="19.6" stroke="#0d0d0d" stroke-width="0.35" font-weight="bold" fill="#0d0d0d" textLength="134.2" lengthAdjust="spacing">Period/Middel</text>
<text x="422.1" y="428" font-size="19.6" stroke="#0d0d0d" stroke-width="0.35" font-weight="bold" fill="#0d0d0d" textLength="30.4" lengthAdjust="spacing">the</text>
<text x="456.8" y="428" font-size="19.6" stroke="#0d0d0d" stroke-width="0.35" font-weight="bold" fill="#0d0d0d" textLength="38.9" lengthAdjust="spacing">wall</text>
<line x1="25.4" y1="435" x2="25.4" y2="670" stroke="#a6a6a6" stroke-width="1.4"/>
<line x1="24.7" y1="669.5" x2="573" y2="669.5" stroke="#a6a6a6" stroke-width="1.6"/>
<text x="14.5" y="449.0" font-size="11.2" fill="#404040" stroke="#404040" stroke-width="0.3" text-anchor="end">34</text>
<text x="14.5" y="467.8" font-size="11.2" fill="#404040" stroke="#404040" stroke-width="0.3" text-anchor="end">32</text>
<text x="14.5" y="486.6" font-size="11.2" fill="#404040" stroke="#404040" stroke-width="0.3" text-anchor="end">30</text>
<text x="14.5" y="505.3" font-size="11.2" fill="#404040" stroke="#404040" stroke-width="0.3" text-anchor="end">28</text>
<text x="14.5" y="524.1" font-size="11.2" fill="#404040" stroke="#404040" stroke-width="0.3" text-anchor="end">26</text>
<text x="14.5" y="542.9" font-size="11.2" fill="#404040" stroke="#404040" stroke-width="0.3" text-anchor="end">24</text>
<text x="14.5" y="561.7" font-size="11.2" fill="#404040" stroke="#404040" stroke-width="0.3" text-anchor="end">22</text>
<text x="14.5" y="580.5" font-size="11.2" fill="#404040" stroke="#404040" stroke-width="0.3" text-anchor="end">20</text>
<text x="14.5" y="599.2" font-size="11.2" fill="#404040" stroke="#404040" stroke-width="0.3" text-anchor="end">18</text>
<text x="14.5" y="618.0" font-size="11.2" fill="#404040" stroke="#404040" stroke-width="0.3" text-anchor="end">16</text>
<text x="14.5" y="636.8" font-size="11.2" fill="#404040" stroke="#404040" stroke-width="0.3" text-anchor="end">14</text>
<text x="14.5" y="655.6" font-size="11.2" fill="#404040" stroke="#404040" stroke-width="0.3" text-anchor="end">12</text>
<text x="14.5" y="674.4" font-size="11.2" fill="#404040" stroke="#404040" stroke-width="0.3" text-anchor="end">10</text>
<text transform="translate(30.8,678) rotate(-90)" font-size="10.2" letter-spacing="0.5" fill="#383838" stroke="#383838" stroke-width="0.35" text-anchor="end">12<tspan dx="1.0">/</tspan><tspan dx="1.0">27</tspan><tspan dx="1.0">/</tspan><tspan dx="1.0">2014</tspan> 0:00</text>
<text transform="translate(45.4,678) rotate(-90)" font-size="10.2" letter-spacing="0.5" fill="#383838" stroke="#383838" stroke-width="0.35" text-anchor="end">1<tspan dx="1.0">/</tspan><tspan dx="1.0">6</tspan><tspan dx="1.0">/</tspan><tspan dx="1.0">2015</tspan> 0:00</text>
<text transform="translate(59.9,678) rotate(-90)" font-size="10.2" letter-spacing="0.5" fill="#383838" stroke="#383838" stroke-width="0.35" text-anchor="end">1<tspan dx="1.0">/</tspan><tspan dx="1.0">16</tspan><tspan dx="1.0">/</tspan><tspan dx="1.0">2015</tspan> 0:00</text>
<text transform="translate(74.5,678) rotate(-90)" font-size="10.2" letter-spacing="0.5" fill="#383838" stroke="#383838" stroke-width="0.35" text-anchor="end">1<tspan dx="1.0">/</tspan><tspan dx="1.0">26</tspan><tspan dx="1.0">/</tspan><tspan dx="1.0">2015</tspan> 0:00</text>
<text transform="translate(89.1,678) rotate(-90)" font-size="10.2" letter-spacing="0.5" fill="#383838" stroke="#383838" stroke-width="0.35" text-anchor="end">2<tspan dx="1.0">/</tspan><tspan dx="1.0">5</tspan><tspan dx="1.0">/</tspan><tspan dx="1.0">2015</tspan> 0:00</text>
<text transform="translate(103.7,678) rotate(-90)" font-size="10.2" letter-spacing="0.5" fill="#383838" stroke="#383838" stroke-width="0.35" text-anchor="end">2<tspan dx="1.0">/</tspan><tspan dx="1.0">15</tspan><tspan dx="1.0">/</tspan><tspan dx="1.0">2015</tspan> 0:00</text>
<text transform="translate(118.2,678) rotate(-90)" font-size="10.2" letter-spacing="0.5" fill="#383838" stroke="#383838" stroke-width="0.35" text-anchor="end">2<tspan dx="1.0">/</tspan><tspan dx="1.0">25</tspan><tspan dx="1.0">/</tspan><tspan dx="1.0">2015</tspan> 0:00</text>
<text transform="translate(132.8,678) rotate(-90)" font-size="10.2" letter-spacing="0.5" fill="#383838" stroke="#383838" stroke-width="0.35" text-anchor="end">3<tspan dx="1.0">/</tspan><tspan dx="1.0">7</tspan><tspan dx="1.0">/</tspan><tspan dx="1.0">2015</tspan> 0:00</text>
<text transform="translate(147.4,678) rotate(-90)" font-size="10.2" letter-spacing="0.5" fill="#383838" stroke="#383838" stroke-width="0.35" text-anchor="end">3<tspan dx="1.0">/</tspan><tspan dx="1.0">17</tspan><tspan dx="1.0">/</tspan><tspan dx="1.0">2015</tspan> 0:00</text>
<text transform="translate(162.0,678) rotate(-90)" font-size="10.2" letter-spacing="0.5" fill="#383838" stroke="#383838" stroke-width="0.35" text-anchor="end">3<tspan dx="1.0">/</tspan><tspan dx="1.0">27</tspan><tspan dx="1.0">/</tspan><tspan dx="1.0">2015</tspan> 0:00</text>
<text transform="translate(176.5,678) rotate(-90)" font-size="10.2" letter-spacing="0.5" fill="#383838" stroke="#383838" stroke-width="0.35" text-anchor="end">4<tspan dx="1.0">/</tspan><tspan dx="1.0">6</tspan><tspan dx="1.0">/</tspan><tspan dx="1.0">2015</tspan> 0:00</text>
<text transform="translate(191.1,678) rotate(-90)" font-size="10.2" letter-spacing="0.5" fill="#383838" stroke="#383838" stroke-width="0.35" text-anchor="end">4<tspan dx="1.0">/</tspan><tspan dx="1.0">16</tspan><tspan dx="1.0">/</tspan><tspan dx="1.0">2015</tspan> 0:00</text>
<text transform="translate(205.7,678) rotate(-90)" font-size="10.2" letter-spacing="0.5" fill="#383838" stroke="#383838" stroke-width="0.35" text-anchor="end">4<tspan dx="1.0">/</tspan><tspan dx="1.0">26</tspan><tspan dx="1.0">/</tspan><tspan dx="1.0">2015</tspan> 0:00</text>
<text transform="translate(220.2,678) rotate(-90)" font-size="10.2" letter-spacing="0.5" fill="#383838" stroke="#383838" stroke-width="0.35" text-anchor="end">5<tspan dx="1.0">/</tspan><tspan dx="1.0">6</tspan><tspan dx="1.0">/</tspan><tspan dx="1.0">2015</tspan> 0:00</text>
<text transform="translate(234.8,678) rotate(-90)" font-size="10.2" letter-spacing="0.5" fill="#383838" stroke="#383838" stroke-width="0.35" text-anchor="end">5<tspan dx="1.0">/</tspan><tspan dx="1.0">16</tspan><tspan dx="1.0">/</tspan><tspan dx="1.0">2015</tspan> 0:00</text>
<text transform="translate(249.4,678) rotate(-90)" font-size="10.2" letter-spacing="0.5" fill="#383838" stroke="#383838" stroke-width="0.35" text-anchor="end">5<tspan dx="1.0">/</tspan><tspan dx="1.0">26</tspan><tspan dx="1.0">/</tspan><tspan dx="1.0">2015</tspan> 0:00</text>
<text transform="translate(264.0,678) rotate(-90)" font-size="10.2" letter-spacing="0.5" fill="#383838" stroke="#383838" stroke-width="0.35" text-anchor="end">6<tspan dx="1.0">/</tspan><tspan dx="1.0">5</tspan><tspan dx="1.0">/</tspan><tspan dx="1.0">2015</tspan> 0:00</text>
<text transform="translate(278.5,678) rotate(-90)" font-size="10.2" letter-spacing="0.5" fill="#383838" stroke="#383838" stroke-width="0.35" text-anchor="end">6<tspan dx="1.0">/</tspan><tspan dx="1.0">15</tspan><tspan dx="1.0">/</tspan><tspan dx="1.0">2015</tspan> 0:00</text>
<text transform="translate(293.1,678) rotate(-90)" font-size="10.2" letter-spacing="0.5" fill="#383838" stroke="#383838" stroke-width="0.35" text-anchor="end">6<tspan dx="1.0">/</tspan><tspan dx="1.0">25</tspan><tspan dx="1.0">/</tspan><tspan dx="1.0">2015</tspan> 0:00</text>
<text transform="translate(307.7,678) rotate(-90)" font-size="10.2" letter-spacing="0.5" fill="#383838" stroke="#383838" stroke-width="0.35" text-anchor="end">7<tspan dx="1.0">/</tspan><tspan dx="1.0">5</tspan><tspan dx="1.0">/</tspan><tspan dx="1.0">2015</tspan> 0:00</text>
<text transform="translate(322.3,678) rotate(-90)" font-size="10.2" letter-spacing="0.5" fill="#383838" stroke="#383838" stroke-width="0.35" text-anchor="end">7<tspan dx="1.0">/</tspan><tspan dx="1.0">15</tspan><tspan dx="1.0">/</tspan><tspan dx="1.0">2015</tspan> 0:00</text>
<text transform="translate(336.8,678) rotate(-90)" font-size="10.2" letter-spacing="0.5" fill="#383838" stroke="#383838" stroke-width="0.35" text-anchor="end">7<tspan dx="1.0">/</tspan><tspan dx="1.0">25</tspan><tspan dx="1.0">/</tspan><tspan dx="1.0">2015</tspan> 0:00</text>
<text transform="translate(351.4,678) rotate(-90)" font-size="10.2" letter-spacing="0.5" fill="#383838" stroke="#383838" stroke-width="0.35" text-anchor="end">8<tspan dx="1.0">/</tspan><tspan dx="1.0">4</tspan><tspan dx="1.0">/</tspan><tspan dx="1.0">2015</tspan> 0:00</text>
<text transform="translate(366.0,678) rotate(-90)" font-size="10.2" letter-spacing="0.5" fill="#383838" stroke="#383838" stroke-width="0.35" text-anchor="end">8<tspan dx="1.0">/</tspan><tspan dx="1.0">14</tspan><tspan dx="1.0">/</tspan><tspan dx="1.0">2015</tspan> 0:00</text>
<text transform="translate(380.6,678) rotate(-90)" font-size="10.2" letter-spacing="0.5" fill="#383838" stroke="#383838" stroke-width="0.35" text-anchor="end">8<tspan dx="1.0">/</tspan><tspan dx="1.0">24</tspan><tspan dx="1.0">/</tspan><tspan dx="1.0">2015</tspan> 0:00</text>
<text transform="translate(395.1,678) rotate(-90)" font-size="10.2" letter-spacing="0.5" fill="#383838" stroke="#383838" stroke-width="0.35" text-anchor="end">9<tspan dx="1.0">/</tspan><tspan dx="1.0">3</tspan><tspan dx="1.0">/</tspan><tspan dx="1.0">2015</tspan> 0:00</text>
<text transform="translate(409.7,678) rotate(-90)" font-size="10.2" letter-spacing="0.5" fill="#383838" stroke="#383838" stroke-width="0.35" text-anchor="end">9<tspan dx="1.0">/</tspan><tspan dx="1.0">13</tspan><tspan dx="1.0">/</tspan><tspan dx="1.0">2015</tspan> 0:00</text>
<text transform="translate(424.3,678) rotate(-90)" font-size="10.2" letter-spacing="0.5" fill="#383838" stroke="#383838" stroke-width="0.35" text-anchor="end">9<tspan dx="1.0">/</tspan><tspan dx="1.0">23</tspan><tspan dx="1.0">/</tspan><tspan dx="1.0">2015</tspan> 0:00</text>
<text transform="translate(438.8,678) rotate(-90)" font-size="10.2" letter-spacing="0.5" fill="#383838" stroke="#383838" stroke-width="0.35" text-anchor="end">10<tspan dx="1.0">/</tspan><tspan dx="1.0">3</tspan><tspan dx="1.0">/</tspan><tspan dx="1.0">2015</tspan> 0:00</text>
<text transform="translate(453.4,678) rotate(-90)" font-size="10.2" letter-spacing="0.5" fill="#383838" stroke="#383838" stroke-width="0.35" text-anchor="end">10<tspan dx="1.0">/</tspan><tspan dx="1.0">13</tspan><tspan dx="1.0">/</tspan><tspan dx="1.0">2015</tspan> 0:00</text>
<text transform="translate(468.0,678) rotate(-90)" font-size="10.2" letter-spacing="0.5" fill="#383838" stroke="#383838" stroke-width="0.35" text-anchor="end">10<tspan dx="1.0">/</tspan><tspan dx="1.0">23</tspan><tspan dx="1.0">/</tspan><tspan dx="1.0">2015</tspan> 0:00</text>
<text transform="translate(482.6,678) rotate(-90)" font-size="10.2" letter-spacing="0.5" fill="#383838" stroke="#383838" stroke-width="0.35" text-anchor="end">11<tspan dx="1.0">/</tspan><tspan dx="1.0">2</tspan><tspan dx="1.0">/</tspan><tspan dx="1.0">2015</tspan> 0:00</text>
<text transform="translate(497.1,678) rotate(-90)" font-size="10.2" letter-spacing="0.5" fill="#383838" stroke="#383838" stroke-width="0.35" text-anchor="end">11<tspan dx="1.0">/</tspan><tspan dx="1.0">12</tspan><tspan dx="1.0">/</tspan><tspan dx="1.0">2015</tspan> 0:00</text>
<text transform="translate(511.7,678) rotate(-90)" font-size="10.2" letter-spacing="0.5" fill="#383838" stroke="#383838" stroke-width="0.35" text-anchor="end">11<tspan dx="1.0">/</tspan><tspan dx="1.0">22</tspan><tspan dx="1.0">/</tspan><tspan dx="1.0">2015</tspan> 0:00</text>
<text transform="translate(526.3,678) rotate(-90)" font-size="10.2" letter-spacing="0.5" fill="#383838" stroke="#383838" stroke-width="0.35" text-anchor="end">12<tspan dx="1.0">/</tspan><tspan dx="1.0">2</tspan><tspan dx="1.0">/</tspan><tspan dx="1.0">2015</tspan> 0:00</text>
<text transform="translate(540.9,678) rotate(-90)" font-size="10.2" letter-spacing="0.5" fill="#383838" stroke="#383838" stroke-width="0.35" text-anchor="end">12<tspan dx="1.0">/</tspan><tspan dx="1.0">12</tspan><tspan dx="1.0">/</tspan><tspan dx="1.0">2015</tspan> 0:00</text>
<text transform="translate(555.4,678) rotate(-90)" font-size="10.2" letter-spacing="0.5" fill="#383838" stroke="#383838" stroke-width="0.35" text-anchor="end">12<tspan dx="1.0">/</tspan><tspan dx="1.0">22</tspan><tspan dx="1.0">/</tspan><tspan dx="1.0">2015</tspan> 0:00</text>
<text transform="translate(570.0,678) rotate(-90)" font-size="10.2" letter-spacing="0.5" fill="#383838" stroke="#383838" stroke-width="0.35" text-anchor="end">1<tspan dx="1.0">/</tspan><tspan dx="1.0">1</tspan><tspan dx="1.0">/</tspan><tspan dx="1.0">2016</tspan> 0:00</text>
<path d="M33.0,602.0 L33.5,600.4 L34.0,598.8 L34.5,596.9 L35.0,594.0 L35.5,594.6 L36.0,593.1 L36.5,592.9 L37.0,589.2 L37.5,589.7 L38.0,589.0 L38.5,590.8 L39.0,590.1 L39.5,591.3 L40.0,589.1 L40.5,590.6 L41.0,591.0 L41.5,591.1 L42.0,592.9 L42.5,593.9 L43.0,592.9 L43.5,594.5 L44.0,595.5 L44.5,598.5 L45.0,598.0 L45.5,599.4 L46.0,597.9 L46.5,600.5 L47.0,600.0 L47.5,594.8 L48.0,592.4 L48.5,586.8 L49.0,584.0 L49.5,581.9 L50.0,584.2 L50.5,581.6 L51.0,581.1 L51.5,583.0 L52.0,581.0 L52.5,582.4 L53.0,580.7 L53.5,583.0 L54.0,581.8 L54.5,582.4 L55.0,582.0 L55.5,581.0 L56.0,583.2 L56.5,582.3 L57.0,583.1 L57.5,582.8 L58.0,580.8 L58.5,580.9 L59.0,580.1 L59.5,580.0 L60.0,581.0 L60.5,580.1 L61.0,581.4 L61.5,582.8 L62.0,581.4 L62.5,584.1 L63.0,584.0 L63.5,584.4 L64.0,585.2 L64.5,587.7 L65.0,587.5 L65.5,587.9 L66.0,589.3 L66.5,591.0 L67.0,589.8 L67.5,593.6 L68.0,593.0 L68.5,590.3 L69.0,591.4 L69.5,590.5 L70.0,586.7 L70.5,587.9 L71.0,585.4 L71.5,584.9 L72.0,581.8 L72.5,580.7 L73.0,581.0 L73.5,579.8 L74.0,582.1 L74.5,579.4 L75.0,581.0 L75.5,581.4 L76.0,581.2 L76.5,579.1 L77.0,578.9 L77.5,579.3 L78.0,579.0 L78.5,579.4 L79.0,576.7 L79.5,578.3 L80.0,578.0 L80.5,577.7 L81.0,574.5 L81.5,576.9 L82.0,573.7 L82.5,574.0 L83.0,574.0 L83.5,575.4 L84.0,577.3 L84.5,576.5 L85.0,579.4 L85.5,579.1 L86.0,580.0 L86.5,580.6 L87.0,581.9 L87.5,582.7 L88.0,583.7 L88.5,585.1 L89.0,588.1 L89.5,590.3 L90.0,590.0 L90.5,588.3 L91.0,587.2 L91.5,589.6 L92.0,587.4 L92.5,586.4 L93.0,586.0 L93.5,583.2 L94.0,582.3 L94.5,581.0 L95.0,578.0 L95.5,582.9 L96.0,587.7 L96.5,591.6 L97.0,598.0 L97.5,599.0 L98.0,595.8 L98.5,597.0 L99.0,597.7 L99.5,595.2 L100.0,596.0 L100.5,593.4 L101.0,590.8 L101.5,586.4 L102.0,583.6 L102.5,578.1 L103.0,576.0 L103.5,574.8 L104.0,572.9 L104.5,574.1 L105.0,571.3 L105.5,570.9 L106.0,571.6 L106.5,570.1 L107.0,569.5 L107.5,566.9 L108.0,566.0 L108.5,565.7 L109.0,564.0 L109.5,564.5 L110.0,564.5 L110.5,565.5 L111.0,565.3 L111.5,566.6 L112.0,569.2 L112.5,569.7 L113.0,569.2 L113.5,569.4 L114.0,570.0 L114.5,569.2 L115.0,568.2 L115.5,568.5 L116.0,569.9 L116.5,569.9 L117.0,568.1 L117.5,569.2 L118.0,568.9 L118.5,568.4 L119.0,568.0 L119.5,568.1 L120.0,567.0 L120.5,566.8 L121.0,568.1 L121.5,566.9 L122.0,567.8 L122.5,568.9 L123.0,568.8 L123.5,567.7 L124.0,570.0 L124.5,569.3 L125.0,569.0 L125.5,569.1 L126.0,567.2 L126.5,568.8 L127.0,567.7 L127.5,568.9 L128.0,568.1 L128.5,569.1 L129.0,568.0 L129.5,567.3 L130.0,566.7 L130.5,564.1 L131.0,564.0 L131.5,563.1 L132.0,562.3 L132.5,559.6 L133.0,559.0 L133.5,561.3 L134.0,562.7 L134.5,563.4 L135.0,564.0 L135.5,567.2 L136.0,568.8 L136.5,569.1 L137.0,570.8 L137.5,571.3 L138.0,574.0 L138.5,575.2 L139.0,575.6 L139.5,574.3 L140.0,575.1 L140.5,575.3 L141.0,575.5 L141.5,573.8 L142.0,575.0 L142.5,574.5 L143.0,572.5 L143.5,571.4 L144.0,569.2 L144.5,568.5 L145.0,567.6 L145.5,565.8 L146.0,564.0 L146.5,563.8 L147.0,560.7 L147.5,560.3 L148.0,560.3 L148.5,560.1 L149.0,557.9 L149.5,558.5 L150.0,557.0 L150.5,558.1 L151.0,556.9 L151.5,558.9 L152.0,558.8 L152.5,558.9 L153.0,561.0 L153.5,564.3 L154.0,570.0 L154.0,570.5 L154.5,575.4 L155.0,580.4 L155.5,587.5 L156.0,592.5 L156.5,593.5 L157.0,597.3 L157.5,599.1 L158.0,600.4 L158.5,604.2 L159.0,606.5 L159.5,609.0 L160.0,614.3 L160.5,617.1 L161.0,622.5 L161.5,620.2 L162.0,620.3 L162.5,620.5 L163.0,618.5 L163.5,619.3 L164.0,621.6 L164.5,624.9 L165.0,627.9 L165.5,628.7 L166.0,630.5 L166.5,632.5 L167.0,636.7 L167.5,636.0 L168.0,641.0 L168.5,641.5 L169.0,644.5 L169.5,644.9 L170.0,646.3 L170.5,648.4 L171.0,650.5 L171.5,652.5 L172.0,651.5 L172.5,653.8 L173.0,654.9 L173.5,655.1 L174.0,656.5 L174.5,654.7 L175.0,651.1 L175.5,649.1 L176.0,647.6 L176.5,647.1 L177.0,644.5 L177.5,637.3 L178.0,629.9 L178.5,623.8 L179.0,616.4 L179.5,608.9 L180.0,602.5 L180.5,601.1 L181.0,598.5 L181.5,594.7 L182.0,593.4 L182.5,590.9 L183.0,588.5 L183.5,589.0 L184.0,587.9 L184.5,585.8 L185.0,587.4 L185.5,583.9 L186.0,584.5 L186.5,578.2 L187.0,573.3 L187.5,565.4 L188.0,560.5 L188.5,562.5 L189.0,563.0 L189.5,567.0 L190.0,568.5 L190.5,577.8 L191.0,585.7 L191.5,595.2 L192.0,602.5 L192.5,600.9 L193.0,601.1 L193.5,599.8 L194.0,598.8 L194.5,597.4 L195.0,596.5 L195.5,594.3 L196.0,591.3 L196.5,586.4 L197.0,583.7 L197.5,578.4 L198.0,576.5 L198.5,576.5 L199.0,575.6 L199.5,576.1 L200.0,574.9 L200.5,572.5 L201.0,572.5 L201.5,568.1 L202.0,565.0 L202.5,559.0 L203.0,556.4 L203.5,551.4 L204.0,548.5 L204.5,550.3 L205.0,553.1 L205.5,558.4 L206.0,560.5 L206.5,565.8 L207.0,572.7 L207.5,579.7 L208.0,586.5 L208.5,588.2 L209.0,586.2 L209.5,587.8 L210.0,588.5 L210.5,589.0 L211.0,590.4 L211.5,590.5 L212.0,591.0 L212.5,589.5 L213.0,590.5 L213.5,583.2 L214.0,576.0 L214.5,570.7 L215.0,562.5 L215.5,561.0 L216.0,555.4 L216.5,552.5 L217.0,550.5 L217.5,550.6 L218.0,551.6 L218.5,553.5 L219.0,554.8 L219.5,554.7 L220.0,556.5 L220.5,553.9 L221.0,554.2 L221.5,553.1 L222.0,552.5 L222.5,554.7 L223.0,557.9 L223.5,559.1 L224.0,560.5 L224.5,562.9 L225.0,564.5 L225.5,562.2 L226.0,557.4 L226.5,557.3 L227.0,554.1 L227.5,551.5 L228.0,547.5 L228.5,551.3 L229.0,552.8 L229.5,555.7 L230.0,557.6 L230.5,562.1 L231.0,564.5 L231.5,561.6 L232.0,560.1 L232.5,559.1 L233.0,558.5 L233.5,555.6 L234.0,554.3 L234.5,551.6 L235.0,549.6 L235.5,548.2 L236.0,547.5 L236.5,550.1 L237.0,554.7 L237.5,557.5 L238.0,564.0 L238.5,567.0 L239.0,570.5 L239.5,573.4 L240.0,577.7 L240.5,582.0 L241.0,586.1 L241.5,589.3 L242.0,594.5 L242.5,594.6 L243.0,594.1 L243.5,591.4 L244.0,590.4 L244.5,588.2 L245.0,588.5 L245.5,588.9 L246.0,591.3 L246.5,592.7 L247.0,596.2 L247.5,595.7 L248.0,598.5 L248.5,593.0 L249.0,591.9 L249.5,586.6 L250.0,581.4 L250.5,578.6 L251.0,574.5 L251.5,569.7 L252.0,567.9 L252.5,566.0 L253.0,562.3 L253.5,558.5 L254.0,554.5 L254.5,549.1 L255.0,544.7 L255.5,539.4 L256.0,536.7 L256.5,531.3 L257.0,526.5 L257.5,524.4 L258.0,520.0 L258.5,516.6 L259.0,515.5 L259.5,513.1 L260.0,508.5 L260.5,507.6 L261.0,505.5 L261.5,503.5 L262.0,501.3 L262.5,497.6 L263.0,496.6 L263.5,494.0 L264.0,492.5 L264.5,492.3 L265.0,493.7 L265.5,495.8 L266.0,497.1 L266.5,499.8 L267.0,500.5 L267.5,505.5 L268.0,507.3 L268.5,512.4 L269.0,514.5 L269.5,513.6 L270.0,511.0 L270.5,506.6 L271.0,503.6 L271.5,501.1 L272.0,498.5 L272.5,496.1 L273.0,494.5 L273.5,496.9 L274.0,499.8 L274.5,501.6 L275.0,502.5 L275.5,507.9 L276.0,514.0 L276.5,520.0 L277.0,524.5 L277.5,526.8 L278.0,532.3 L278.5,536.8 L279.0,540.1 L279.5,543.6 L280.0,546.5 L280.5,548.9 L281.0,550.5 L281.5,554.9 L282.0,556.0 L282.5,560.0 L283.0,563.0 L283.5,563.7 L284.0,566.5 L284.5,566.3 L285.0,568.2 L285.5,567.6 L286.0,565.9 L286.5,565.9 L287.0,566.1 L287.5,568.7 L288.0,567.5 L288.5,566.3 L289.0,562.0 L289.5,562.0 L290.0,560.4 L290.5,557.2 L291.0,554.5 L291.5,551.0 L292.0,548.7 L292.5,544.3 L293.0,540.9 L293.5,541.0 L294.0,536.5 L294.5,537.1 L295.0,536.9 L295.5,538.4 L296.0,537.0 L296.5,538.5 L297.0,537.5 L297.5,533.7 L298.0,526.9 L298.5,522.2 L299.0,517.5 L299.5,512.5 L300.0,508.5 L300.5,504.8 L301.0,499.7 L301.5,496.2 L302.0,491.3 L302.5,489.8 L303.0,484.5 L303.5,480.8 L304.0,477.9 L304.5,475.0 L305.0,472.8 L305.5,468.0 L306.0,466.3 L306.5,461.8 L307.0,458.5 L307.5,461.1 L308.0,463.6 L308.5,464.5 L309.0,468.5 L309.5,480.3 L310.0,492.5 L310.5,496.2 L311.0,500.2 L311.5,507.5 L312.0,510.1 L312.5,515.7 L313.0,520.5 L313.5,516.5 L314.0,511.2 L314.5,505.7 L315.0,501.5 L315.5,503.4 L316.0,505.3 L316.5,507.9 L317.0,507.6 L317.5,510.9 L318.0,512.5 L318.5,510.2 L319.0,508.8 L319.5,508.9 L320.0,506.5 L320.5,501.9 L321.0,497.4 L321.5,493.3 L322.0,489.2 L322.5,483.0 L323.0,478.5 L323.5,473.1 L324.0,467.0 L324.5,461.3 L325.0,455.5 L325.5,458.1 L326.0,459.3 L326.5,461.6 L327.0,463.5 L327.5,459.7 L328.0,457.4 L328.5,452.9 L329.0,448.5 L329.5,451.2 L330.0,452.9 L330.5,452.2 L331.0,454.7 L331.5,457.4 L332.0,458.6 L332.5,457.8 L333.0,460.5 L333.5,463.6 L334.0,469.0 L334.5,472.1 L335.0,477.0 L335.5,480.8 L336.0,486.5 L336.5,490.6 L337.0,494.6 L337.5,498.6 L338.0,499.8 L338.5,505.2 L339.0,508.6 L339.5,510.6 L340.0,516.5 L340.5,520.4 L341.0,522.5 L341.5,520.9 L342.0,522.4 L342.5,519.9 L343.0,519.5 L343.5,520.3 L344.0,519.1 L344.5,516.2 L345.0,516.5 L345.5,514.3 L346.0,512.5 L346.5,510.0 L347.0,507.5 L347.5,505.9 L348.0,504.5 L348.5,499.9 L349.0,492.3 L349.5,488.7 L350.0,483.0 L350.5,476.3 L351.0,472.5 L351.5,468.3 L352.0,465.6 L352.5,461.5 L353.0,456.4 L353.5,455.7 L354.0,450.5 L354.5,451.9 L355.0,453.0 L355.5,450.7 L356.0,451.7 L356.5,451.5 L357.0,454.4 L357.5,453.3 L358.0,454.5 L358.5,452.1 L359.0,451.8 L359.5,452.1 L360.0,450.5 L360.5,447.5 L361.0,445.9 L361.5,447.1 L362.0,444.5 L362.5,446.4 L363.0,448.5 L363.5,448.2 L364.0,449.8 L364.5,453.4 L365.0,454.5 L365.5,459.9 L366.0,464.5 L366.5,472.9 L367.0,477.6 L367.5,483.8 L368.0,488.5 L368.5,493.4 L369.0,502.1 L369.5,505.9 L370.0,514.7 L370.5,519.6 L371.0,525.5 L371.5,532.4 L372.0,538.5 L372.5,538.2 L373.0,534.4 L373.5,532.3 L374.0,531.9 L374.5,529.3 L375.0,528.5 L375.5,525.6 L376.0,524.1 L376.5,522.1 L377.0,520.9 L377.5,519.6 L378.0,518.5 L378.5,520.9 L379.0,525.3 L379.5,526.8 L380.0,530.5 L380.5,526.5 L381.0,521.5 L381.5,518.0 L382.0,514.5 L382.5,509.3 L383.0,506.4 L383.5,501.9 L384.0,500.6 L384.5,496.3 L385.0,492.5 L385.5,486.3 L386.0,481.9 L386.5,478.1 L387.0,471.5 L387.5,470.7 L388.0,473.5 L388.5,472.8 L389.0,473.5 L389.5,478.5 L390.0,483.5 L390.5,488.1 L391.0,490.2 L391.5,494.0 L392.0,498.1 L392.5,502.5 L393.0,504.5 L393.5,509.7 L394.0,516.9 L394.5,522.2 L395.0,527.6 L395.5,532.5 L396.0,538.5 L396.5,542.0 L397.0,545.1 L397.5,549.3 L398.0,553.1 L398.5,559.3 L399.0,562.5 L399.5,563.2 L400.0,564.4 L400.5,565.7 L401.0,569.6 L401.5,571.2 L402.0,571.5 L402.5,569.7 L403.0,566.1 L403.5,563.6 L404.0,561.3 L404.5,559.5 L405.0,556.2 L405.5,554.7 L406.0,552.5 L406.5,550.5 L407.0,551.5 L407.5,550.3 L408.0,547.5 L408.5,549.2 L409.0,549.7 L409.5,553.5 L410.0,553.5 L410.5,548.4 L411.0,544.0 L411.5,538.4 L412.0,535.1 L412.5,530.9 L413.0,526.5 L413.5,528.5 L414.0,529.5 L414.5,532.5 L415.0,532.9 L415.5,535.7 L416.0,538.5 L416.5,539.9 L417.0,543.7 L417.5,545.3 L418.0,548.0 L418.5,551.6 L419.0,554.1 L419.5,558.0 L420.0,560.5 L420.5,563.1 L421.0,566.3 L421.5,568.5 L422.0,571.2 L422.5,574.2 L423.0,575.1 L423.5,577.4 L424.0,580.5 L424.5,583.7 L425.0,582.7 L425.5,586.2 L426.0,587.6 L426.5,587.4 L427.0,590.5 L427.5,591.9 L428.0,592.4 L428.5,591.9 L429.0,592.6 L429.5,593.2 L430.0,592.5 L430.5,593.0 L431.0,595.9 L431.5,597.5 L432.0,600.2 L432.5,601.8 L433.0,602.5 L433.5,600.2 L434.0,596.1 L434.5,593.8 L435.0,589.8 L435.5,586.5 L436.0,582.5 L436.5,580.6 L437.0,579.0 L437.5,578.3 L438.0,578.1 L438.5,576.2 L439.0,576.5 L439.5,578.6 L440.0,578.7 L440.5,579.9 L441.0,580.9 L441.5,582.1 L442.0,582.5 L442.5,584.1 L443.0,584.2 L443.5,588.5 L444.0,590.0 L444.5,590.8 L445.0,592.5 L445.5,595.3 L446.0,598.3 L446.5,599.1 L447.0,603.9 L447.5,605.0 L448.0,608.5 L448.5,613.6 L449.0,621.5 L449.5,609.2 L450.0,598.5 L450.5,595.2 L451.0,590.5 L451.5,586.9 L452.0,585.9 L452.5,584.0 L453.0,579.8 L453.5,576.8 L454.0,574.5 L454.5,573.8 L455.0,573.8 L455.5,573.4 L456.0,572.2 L456.5,571.6 L457.0,570.5 L457.5,570.5 L458.0,572.0 L458.5,573.7 L459.0,576.6 L459.5,576.5 L460.0,578.5 L460.5,578.2 L461.0,575.9 L461.5,575.6 L462.0,575.8 L462.5,576.6 L463.0,576.1 L463.5,575.6 L464.0,574.5 L464.5,572.8 L465.0,572.6 L465.5,571.4 L466.0,570.4 L466.5,568.3 L467.0,569.8 L467.5,566.5 L468.0,568.0 L468.5,566.9 L469.0,564.5 L469.5,563.0 L470.0,564.5 L470.0,566.0 L470.5,567.2 L471.0,568.3 L471.5,568.8 L472.0,572.5 L472.5,571.1 L473.0,574.0 L473.5,573.4 L474.0,574.0 L474.5,570.8 L475.0,571.7 L475.5,571.2 L476.0,568.8 L476.5,569.2 L477.0,569.0 L477.5,570.3 L478.0,570.0 L478.5,571.5 L479.0,570.3 L479.5,571.2 L480.0,571.4 L480.5,573.2 L481.0,575.2 L481.5,574.7 L482.0,575.0 L482.5,575.3 L483.0,573.4 L483.5,573.9 L484.0,571.2 L484.5,571.2 L485.0,571.8 L485.5,571.3 L486.0,570.0 L486.5,568.9 L487.0,566.9 L487.5,566.6 L488.0,565.6 L488.5,564.9 L489.0,565.7 L489.5,562.9 L490.0,563.0 L490.5,563.6 L491.0,562.9 L491.5,559.6 L492.0,559.9 L492.5,559.6 L493.0,559.0 L493.5,558.8 L494.0,561.4 L494.5,564.3 L495.0,563.1 L495.5,566.0 L496.0,567.0 L496.5,566.8 L497.0,569.3 L497.5,571.3 L498.0,570.0 L498.5,570.4 L499.0,573.0 L499.5,570.4 L500.0,570.6 L500.5,567.7 L501.0,566.7 L501.5,566.7 L502.0,566.8 L502.5,564.0 L503.0,563.0 L503.5,564.9 L504.0,567.9 L504.5,568.4 L505.0,572.0 L505.5,576.8 L506.0,580.0 L506.5,585.8 L507.0,590.0 L507.5,601.5 L508.0,610.0 L508.5,614.6 L509.0,622.2 L509.5,628.3 L510.0,634.0 L510.5,634.2 L511.0,635.9 L511.5,639.6 L512.0,640.9 L512.5,639.5 L513.0,642.0 L513.5,642.4 L514.0,642.9 L514.5,640.4 L515.0,641.4 L515.5,639.3 L516.0,640.1 L516.5,640.8 L517.0,640.0 L517.5,638.3 L518.0,636.9 L518.5,632.7 L519.0,631.5 L519.5,631.2 L520.0,628.3 L520.5,625.8 L521.0,624.0 L521.5,622.6 L522.0,623.3 L522.5,620.9 L523.0,618.0 L523.5,619.3 L524.0,616.7 L524.5,615.9 L525.0,615.0 L525.5,614.6 L526.0,615.8 L526.5,615.9 L527.0,615.7 L527.5,617.9 L528.0,618.0 L528.5,620.7 L529.0,626.9 L529.5,628.5 L530.0,634.0 L530.5,635.9 L531.0,637.0 L531.5,637.0 L532.0,638.7 L532.5,638.2 L533.0,640.0 L533.5,639.4 L534.0,637.1 L534.5,635.1 L535.0,636.2 L535.5,633.0 L536.0,632.0 L536.5,631.4 L537.0,632.8 L537.5,631.0 L538.0,631.7 L538.5,629.9 L539.0,631.9 L539.5,629.8 L540.0,629.0 L540.5,631.7 L541.0,630.0 L541.5,629.4 L542.0,632.2 L542.5,632.8 L543.0,631.9 L543.5,630.4 L544.0,631.0 L544.5,631.9 L545.0,632.8 L545.5,634.0 L546.0,634.0 L546.5,636.1 L547.0,634.7 L547.5,634.7 L548.0,636.6 L548.5,635.8 L549.0,636.3 L549.5,638.4 L550.0,639.4 L550.5,638.0 L551.0,640.0 L551.5,637.8 L552.0,636.7 L552.5,634.8 L553.0,631.6 L553.5,631.2 L554.0,628.0 L554.5,624.9 L555.0,624.7 L555.5,622.9 L556.0,620.0 L556.5,622.5 L557.0,622.5 L557.5,622.5 L558.0,623.6 L558.5,626.3 L559.0,626.5 L559.5,629.2 L560.0,630.0 L560.5,629.2 L561.0,631.9 L561.5,630.6 L562.0,630.4 L562.5,631.5 L563.0,632.9 L563.5,633.7 L564.0,634.0 L564.5,635.1 L565.0,636.0 L565.5,638.4 L566.0,640.0" fill="none" stroke="#5b9bd5" stroke-width="1.4" stroke-linejoin="round"/>
<path d="M33.0,612.0 L33.5,609.5 L34.0,607.5 L34.5,606.4 L35.0,602.6 L35.5,600.4 L36.0,598.0 L36.5,598.7 L37.0,597.7 L37.5,599.2 L38.0,599.9 L38.5,600.8 L39.0,599.0 L39.5,600.0 L40.0,601.0 L40.5,601.0 L41.0,604.6 L41.5,605.5 L42.0,604.7 L42.5,609.0 L43.0,610.3 L43.5,610.6 L44.0,611.8 L44.5,611.6 L45.0,614.0 L45.5,608.3 L46.0,605.8 L46.5,600.1 L47.0,596.3 L47.5,592.3 L48.0,589.0 L48.5,588.2 L49.0,590.4 L49.5,591.1 L50.0,593.1 L50.5,592.8 L51.0,593.9 L51.5,594.2 L52.0,595.0 L52.5,595.3 L53.0,594.4 L53.5,593.5 L54.0,595.6 L54.5,595.3 L55.0,594.6 L55.5,593.9 L56.0,592.4 L56.5,591.9 L57.0,591.8 L57.5,590.9 L58.0,592.0 L58.5,593.1 L59.0,592.1 L59.5,593.7 L60.0,592.4 L60.5,594.5 L61.0,594.3 L61.5,591.8 L62.0,592.7 L62.5,595.1 L63.0,594.0 L63.5,594.8 L64.0,597.4 L64.5,596.4 L65.0,596.3 L65.5,599.0 L66.0,600.4 L66.5,599.7 L67.0,600.0 L67.5,601.7 L68.0,604.7 L68.5,604.9 L69.0,605.0 L69.5,603.0 L70.0,602.7 L70.5,601.5 L71.0,600.6 L71.5,602.2 L72.0,599.5 L72.5,599.9 L73.0,599.0 L73.5,597.9 L74.0,596.2 L74.5,597.0 L75.0,594.1 L75.5,594.8 L76.0,592.2 L76.5,592.2 L77.0,590.7 L77.5,589.9 L78.0,591.2 L78.5,589.8 L79.0,587.2 L79.5,588.2 L80.0,586.0 L80.5,584.9 L81.0,585.4 L81.5,586.8 L82.0,586.0 L82.5,584.1 L83.0,586.8 L83.5,584.2 L84.0,585.0 L84.5,586.4 L85.0,590.1 L85.5,590.8 L86.0,592.8 L86.5,594.3 L87.0,596.4 L87.5,600.1 L88.0,602.0 L88.5,601.0 L89.0,602.0 L89.5,601.1 L90.0,601.2 L90.5,602.6 L91.0,600.9 L91.5,601.1 L92.0,601.8 L92.5,599.5 L93.0,599.2 L93.5,601.5 L94.0,600.0 L94.5,602.9 L95.0,602.9 L95.5,604.5 L96.0,608.1 L96.5,610.6 L97.0,611.0 L97.5,608.9 L98.0,610.2 L98.5,608.9 L99.0,606.9 L99.5,605.2 L100.0,603.1 L100.5,601.8 L101.0,603.7 L101.5,600.3 L102.0,600.0 L102.5,597.2 L103.0,592.2 L103.5,590.5 L104.0,586.0 L104.5,585.1 L105.0,582.8 L105.5,581.2 L106.0,581.7 L106.5,578.4 L107.0,577.6 L107.5,577.4 L108.0,576.0 L108.5,577.8 L109.0,577.6 L109.5,577.2 L110.0,579.8 L110.5,578.2 L111.0,578.2 L111.5,579.6 L112.0,581.0 L112.5,581.3 L113.0,580.6 L113.5,581.5 L114.0,582.6 L114.5,583.7 L115.0,582.8 L115.5,584.1 L116.0,585.0 L116.5,585.1 L117.0,584.2 L117.5,582.0 L118.0,580.9 L118.5,579.4 L119.0,578.0 L119.5,576.6 L120.0,576.1 L120.5,575.9 L121.0,578.5 L121.5,577.6 L122.0,578.3 L122.5,575.1 L123.0,576.8 L123.5,576.1 L124.0,576.0 L124.5,577.1 L125.0,576.2 L125.5,578.8 L126.0,576.2 L126.5,578.1 L127.0,579.2 L127.5,580.1 L128.0,580.0 L128.5,580.3 L129.0,580.0 L129.5,579.2 L130.0,577.8 L130.5,574.3 L131.0,573.6 L131.5,572.5 L132.0,570.7 L132.5,567.5 L133.0,566.0 L133.5,568.8 L134.0,570.9 L134.5,571.9 L135.0,573.9 L135.5,575.0 L136.0,577.5 L136.5,579.5 L137.0,581.0 L137.5,580.3 L138.0,582.8 L138.5,584.6 L139.0,584.9 L139.5,585.1 L140.0,585.0 L140.5,583.8 L141.0,584.2 L141.5,582.9 L142.0,581.6 L142.5,582.1 L143.0,578.9 L143.5,580.2 L144.0,577.1 L144.5,578.1 L145.0,577.0 L145.5,576.0 L146.0,574.3 L146.5,574.9 L147.0,573.3 L147.5,572.8 L148.0,572.8 L148.5,569.8 L149.0,568.1 L149.5,568.1 L150.0,568.4 L150.5,566.0 L151.0,566.0 L151.5,565.9 L152.0,569.3 L152.5,569.5 L153.0,569.8 L153.5,572.3 L154.0,572.0 L154.0,572.0 L154.5,576.7 L155.0,583.6 L155.5,589.1 L156.0,594.0 L156.5,597.5 L157.0,597.7 L157.5,600.1 L158.0,602.2 L158.5,604.8 L159.0,608.0 L159.5,612.7 L160.0,614.8 L160.5,620.1 L161.0,624.0 L161.5,622.1 L162.0,621.3 L162.5,620.8 L163.0,620.0 L163.5,623.1 L164.0,624.3 L164.5,624.4 L165.0,627.3 L165.5,628.9 L166.0,632.0 L166.5,635.5 L167.0,637.7 L167.5,640.0 L168.0,642.4 L168.5,644.4 L169.0,646.0 L169.5,648.9 L170.0,649.9 L170.5,649.7 L171.0,652.0 L171.5,654.1 L172.0,654.0 L172.5,655.8 L173.0,656.2 L173.5,656.8 L174.0,658.0 L174.5,655.6 L175.0,653.8 L175.5,651.4 L176.0,648.8 L176.5,649.0 L177.0,646.0 L177.5,640.0 L178.0,633.6 L178.5,625.6 L179.0,618.2 L179.5,611.8 L180.0,604.0 L180.5,600.5 L181.0,599.9 L181.5,596.8 L182.0,593.6 L182.5,591.4 L183.0,590.0 L183.5,589.4 L184.0,587.9 L184.5,587.9 L185.0,587.7 L185.5,586.3 L186.0,586.0 L186.5,578.8 L187.0,574.0 L187.5,567.2 L188.0,562.0 L188.5,563.2 L189.0,565.0 L189.5,567.6 L190.0,570.0 L190.5,577.1 L191.0,587.5 L191.5,597.0 L192.0,604.0 L192.5,602.6 L193.0,602.7 L193.5,602.4 L194.0,598.5 L194.5,597.9 L195.0,598.0 L195.5,595.6 L196.0,592.4 L196.5,588.4 L197.0,583.6 L197.5,581.1 L198.0,578.0 L198.5,578.5 L199.0,577.9 L199.5,577.0 L200.0,574.4 L200.5,575.8 L201.0,574.0 L201.5,569.6 L202.0,566.7 L202.5,560.8 L203.0,559.5 L203.5,554.3 L204.0,550.0 L204.5,553.7 L205.0,555.1 L205.5,559.4 L206.0,562.0 L206.5,568.8 L207.0,575.3 L207.5,581.0 L208.0,588.0 L208.5,589.2 L209.0,588.5 L209.5,588.8 L210.0,590.0 L210.5,589.3 L211.0,591.3 L211.5,589.8 L212.0,590.5 L212.5,590.3 L213.0,592.0 L213.5,585.5 L214.0,578.2 L214.5,571.1 L215.0,564.0 L215.5,559.5 L216.0,557.8 L216.5,554.5 L217.0,552.0 L217.5,551.7 L218.0,552.4 L218.5,556.6 L219.0,554.8 L219.5,556.4 L220.0,558.0 L220.5,556.3 L221.0,556.3 L221.5,553.6 L222.0,554.0 L222.5,555.9 L223.0,557.6 L223.5,561.1 L224.0,560.4 L224.5,563.5 L225.0,566.0 L225.5,563.2 L226.0,561.8 L226.5,557.6 L227.0,554.6 L227.5,552.4 L228.0,549.0 L228.5,551.2 L229.0,553.2 L229.5,557.5 L230.0,561.6 L230.5,563.9 L231.0,566.0 L231.5,563.7 L232.0,563.6 L232.5,562.6 L233.0,560.0 L233.5,557.4 L234.0,556.6 L234.5,554.0 L235.0,551.8 L235.5,550.2 L236.0,549.0 L236.5,551.9 L237.0,556.2 L237.5,559.0 L238.0,564.0 L238.5,566.8 L239.0,572.0 L239.5,576.8 L240.0,580.3 L240.5,582.4 L241.0,588.9 L241.5,591.0 L242.0,596.0 L242.5,594.9 L243.0,594.2 L243.5,592.5 L244.0,591.3 L244.5,590.8 L245.0,590.0 L245.5,590.5 L246.0,594.5 L246.5,593.8 L247.0,597.7 L247.5,597.4 L248.0,600.0 L248.5,595.4 L249.0,591.6 L249.5,586.5 L250.0,582.8 L250.5,579.6 L251.0,576.0 L251.5,572.5 L252.0,570.5 L252.5,567.6 L253.0,561.2 L253.5,559.4 L254.0,556.0 L254.5,550.1 L255.0,547.6 L255.5,541.4 L256.0,538.6 L256.5,532.8 L257.0,528.0 L257.5,523.8 L258.0,520.4 L258.5,518.2 L259.0,517.2 L259.5,511.9 L260.0,510.0 L260.5,507.9 L261.0,505.6 L261.5,503.5 L262.0,503.0 L262.5,499.1 L263.0,498.7 L263.5,496.5 L264.0,494.0 L264.5,496.7 L265.0,496.7 L265.5,499.3 L266.0,499.1 L266.5,500.9 L267.0,502.0 L267.5,505.9 L268.0,510.1 L268.5,513.8 L269.0,516.0 L269.5,512.3 L270.0,509.8 L270.5,508.6 L271.0,507.0 L271.5,503.6 L272.0,500.4 L272.5,500.0 L273.0,496.0 L273.5,497.4 L274.0,498.7 L274.5,500.6 L275.0,504.0 L275.5,508.0 L276.0,515.7 L276.5,519.2 L277.0,526.0 L277.5,530.4 L278.0,534.5 L278.5,538.6 L279.0,541.7 L279.5,544.1 L280.0,548.0 L280.5,550.9 L281.0,554.1 L281.5,556.2 L282.0,557.3 L282.5,561.3 L283.0,561.8 L283.5,564.9 L284.0,568.0 L284.5,569.7 L285.0,568.2 L285.5,567.6 L286.0,569.4 L286.5,568.5 L287.0,567.2 L287.5,567.4 L288.0,569.0 L288.5,566.1 L289.0,564.1 L289.5,563.9 L290.0,559.5 L290.5,559.3 L291.0,556.0 L291.5,554.1 L292.0,549.7 L292.5,548.6 L293.0,544.8 L293.5,540.9 L294.0,538.0 L294.5,537.4 L295.0,538.2 L295.5,539.8 L296.0,538.8 L296.5,537.9 L297.0,539.0 L297.5,533.8 L298.0,529.3 L298.5,523.5 L299.0,519.9 L299.5,513.3 L300.0,510.0 L300.5,507.0 L301.0,501.0 L301.5,496.7 L302.0,494.3 L302.5,489.4 L303.0,486.0 L303.5,484.0 L304.0,479.5 L304.5,476.3 L305.0,474.1 L305.5,468.8 L306.0,467.3 L306.5,463.7 L307.0,460.0 L307.5,462.3 L308.0,466.5 L308.5,466.0 L309.0,470.0 L309.5,483.2 L310.0,494.0 L310.5,497.5 L311.0,504.4 L311.5,506.9 L312.0,511.2 L312.5,517.3 L313.0,522.0 L313.5,518.6 L314.0,511.7 L314.5,507.7 L315.0,503.0 L315.5,505.2 L316.0,505.8 L316.5,508.6 L317.0,508.8 L317.5,512.0 L318.0,514.0 L318.5,513.3 L319.0,510.5 L319.5,508.6 L320.0,508.0 L320.5,501.9 L321.0,499.3 L321.5,493.8 L322.0,490.7 L322.5,485.4 L323.0,480.0 L323.5,473.0 L324.0,469.8 L324.5,464.1 L325.0,457.0 L325.5,460.0 L326.0,462.1 L326.5,463.6 L327.0,465.0 L327.5,462.0 L328.0,458.0 L328.5,454.0 L329.0,450.0 L329.5,450.7 L330.0,451.8 L330.5,455.2 L331.0,456.3 L331.5,456.1 L332.0,459.5 L332.5,460.9 L333.0,462.0 L333.5,466.4 L334.0,471.5 L334.5,476.2 L335.0,479.0 L335.5,484.7 L336.0,488.0 L336.5,491.6 L337.0,495.4 L337.5,498.5 L338.0,503.8 L338.5,505.8 L339.0,511.0 L339.5,512.7 L340.0,517.4 L340.5,521.7 L341.0,524.0 L341.5,523.8 L342.0,522.1 L342.5,520.4 L343.0,520.9 L343.5,520.0 L344.0,520.5 L344.5,519.7 L345.0,518.0 L345.5,517.6 L346.0,513.8 L346.5,511.7 L347.0,510.2 L347.5,508.8 L348.0,506.0 L348.5,499.3 L349.0,494.4 L349.5,488.9 L350.0,484.1 L350.5,478.7 L351.0,474.0 L351.5,471.8 L352.0,465.7 L352.5,464.4 L353.0,458.7 L353.5,454.7 L354.0,452.0 L354.5,454.0 L355.0,451.7 L355.5,452.3 L356.0,452.8 L356.5,453.1 L357.0,454.6 L357.5,454.6 L358.0,456.0 L358.5,453.7 L359.0,452.0 L359.5,452.9 L360.0,449.6 L360.5,448.9 L361.0,448.7 L361.5,448.5 L362.0,446.0 L362.5,448.2 L363.0,450.0 L363.5,451.6 L364.0,453.6 L364.5,455.5 L365.0,456.0 L365.5,460.6 L366.0,465.9 L366.5,473.4 L367.0,478.7 L367.5,484.4 L368.0,490.0 L368.5,497.2 L369.0,501.5 L369.5,509.4 L370.0,514.8 L370.5,521.0 L371.0,526.7 L371.5,533.1 L372.0,540.0 L372.5,538.6 L373.0,536.8 L373.5,536.3 L374.0,532.6 L374.5,532.4 L375.0,530.0 L375.5,527.0 L376.0,527.2 L376.5,523.9 L377.0,524.5 L377.5,523.2 L378.0,520.0 L378.5,522.2 L379.0,527.0 L379.5,528.1 L380.0,532.0 L380.5,527.4 L381.0,522.7 L381.5,519.8 L382.0,516.0 L382.5,511.1 L383.0,509.3 L383.5,505.2 L384.0,501.1 L384.5,498.3 L385.0,494.0 L385.5,487.9 L386.0,483.0 L386.5,477.8 L387.0,473.0 L387.5,471.9 L388.0,475.2 L388.5,473.2 L389.0,475.0 L389.5,478.7 L390.0,485.0 L390.5,489.5 L391.0,493.0 L391.5,495.3 L392.0,498.7 L392.5,501.3 L393.0,506.0 L393.5,510.1 L394.0,517.4 L394.5,522.2 L395.0,527.5 L395.5,535.6 L396.0,540.0 L396.5,542.5 L397.0,547.6 L397.5,552.8 L398.0,556.8 L398.5,558.7 L399.0,564.0 L399.5,566.3 L400.0,567.2 L400.5,568.9 L401.0,571.4 L401.5,572.5 L402.0,573.0 L402.5,570.9 L403.0,569.1 L403.5,565.8 L404.0,563.7 L404.5,562.1 L405.0,559.1 L405.5,556.0 L406.0,554.0 L406.5,551.2 L407.0,552.4 L407.5,549.7 L408.0,549.0 L408.5,550.3 L409.0,551.3 L409.5,553.7 L410.0,555.0 L410.5,550.2 L411.0,547.1 L411.5,541.8 L412.0,537.2 L412.5,533.4 L413.0,528.0 L413.5,529.8 L414.0,532.1 L414.5,534.8 L415.0,536.7 L415.5,538.8 L416.0,540.0 L416.5,544.0 L417.0,545.7 L417.5,548.4 L418.0,550.0 L418.5,552.9 L419.0,556.3 L419.5,559.2 L420.0,562.0 L420.5,565.8 L421.0,565.5 L421.5,569.0 L422.0,572.8 L422.5,574.4 L423.0,578.1 L423.5,578.4 L424.0,582.0 L424.5,584.5 L425.0,585.1 L425.5,587.2 L426.0,587.2 L426.5,590.0 L427.0,592.0 L427.5,593.3 L428.0,593.4 L428.5,593.2 L429.0,593.1 L429.5,592.2 L430.0,594.0 L430.5,596.3 L431.0,597.2 L431.5,599.7 L432.0,601.0 L432.5,602.0 L433.0,604.0 L433.5,601.9 L434.0,596.2 L434.5,595.5 L435.0,589.3 L435.5,588.8 L436.0,584.0 L436.5,583.3 L437.0,581.8 L437.5,582.4 L438.0,580.0 L438.5,579.0 L439.0,578.0 L439.5,577.6 L440.0,581.0 L440.5,581.4 L441.0,581.2 L441.5,581.8 L442.0,584.0 L442.5,585.4 L443.0,588.7 L443.5,590.2 L444.0,590.6 L444.5,590.8 L445.0,594.0 L445.5,597.7 L446.0,598.4 L446.5,602.7 L447.0,604.7 L447.5,608.8 L448.0,610.0 L448.5,605.9 L449.0,604.9 L449.5,601.7 L450.0,596.5 L450.5,595.2 L451.0,592.0 L451.5,588.7 L452.0,587.3 L452.5,585.5 L453.0,581.9 L453.5,578.6 L454.0,576.0 L454.5,575.7 L455.0,573.9 L455.5,573.9 L456.0,572.1 L456.5,573.4 L457.0,572.0 L457.5,571.9 L458.0,574.8 L458.5,575.0 L459.0,577.5 L459.5,577.2 L460.0,580.0 L460.5,578.0 L461.0,579.4 L461.5,579.2 L462.0,579.2 L462.5,578.1 L463.0,578.6 L463.5,575.4 L464.0,576.0 L464.5,575.4 L465.0,574.4 L465.5,572.0 L466.0,570.8 L466.5,570.2 L467.0,570.1 L467.5,569.9 L468.0,568.7 L468.5,567.2 L469.0,566.0 L469.5,564.6 L470.0,566.0 L470.0,566.0 L470.5,569.0 L471.0,567.4 L471.5,571.3 L472.0,570.9 L472.5,575.1 L473.0,573.5 L473.5,577.7 L474.0,578.0 L474.5,578.3 L475.0,578.6 L475.5,578.8 L476.0,576.2 L476.5,576.2 L477.0,577.2 L477.5,575.5 L478.0,576.0 L478.5,576.2 L479.0,577.1 L479.5,580.1 L480.0,581.2 L480.5,582.0 L481.0,581.1 L481.5,584.4 L482.0,584.0 L482.5,582.8 L483.0,580.6 L483.5,580.1 L484.0,578.7 L484.5,576.4 L485.0,576.7 L485.5,574.8 L486.0,574.0 L486.5,572.8 L487.0,572.6 L487.5,570.3 L488.0,568.2 L488.5,568.3 L489.0,567.3 L489.5,564.3 L490.0,563.0 L490.5,564.1 L491.0,560.8 L491.5,560.8 L492.0,560.6 L492.5,562.7 L493.0,561.0 L493.5,563.4 L494.0,565.4 L494.5,565.8 L495.0,568.3 L495.5,571.4 L496.0,572.0 L496.5,571.6 L497.0,572.4 L497.5,573.1 L498.0,575.2 L498.5,577.3 L499.0,577.0 L499.5,575.6 L500.0,573.4 L500.5,572.1 L501.0,569.5 L501.5,570.3 L502.0,566.8 L502.5,564.8 L503.0,564.0 L503.5,565.9 L504.0,570.0 L504.5,570.9 L505.0,574.0 L505.5,579.3 L506.0,581.5 L506.5,585.8 L507.0,590.0 L507.5,598.6 L508.0,610.0 L508.5,618.3 L509.0,624.9 L509.5,630.9 L510.0,638.0 L510.5,638.4 L511.0,641.2 L511.5,642.5 L512.0,645.6 L512.5,647.5 L513.0,648.5 L513.5,648.7 L514.0,651.0 L514.5,648.7 L515.0,650.5 L515.5,649.8 L516.0,646.4 L516.5,646.6 L517.0,645.7 L517.5,646.4 L518.0,644.0 L518.5,639.9 L519.0,637.3 L519.5,637.1 L520.0,633.6 L520.5,630.5 L521.0,628.0 L521.5,627.6 L522.0,625.8 L522.5,624.9 L523.0,622.2 L523.5,620.4 L524.0,618.9 L524.5,618.7 L525.0,618.0 L525.5,619.1 L526.0,618.9 L526.5,619.5 L527.0,621.0 L527.5,622.0 L528.0,622.0 L528.5,626.8 L529.0,630.4 L529.5,636.5 L530.0,640.0 L530.5,642.8 L531.0,644.9 L531.5,646.8 L532.0,645.8 L532.5,649.7 L533.0,651.0 L533.5,648.7 L534.0,647.0 L534.5,645.6 L535.0,642.5 L535.5,641.0 L536.0,640.0 L536.5,641.3 L537.0,638.9 L537.5,640.4 L538.0,639.4 L538.5,637.9 L539.0,637.6 L539.5,638.2 L540.0,638.2 L540.5,636.8 L541.0,637.0 L541.5,635.9 L542.0,636.6 L542.5,639.1 L543.0,638.9 L543.5,637.2 L544.0,639.9 L544.5,639.3 L545.0,638.9 L545.5,641.0 L546.0,640.0 L546.5,639.6 L547.0,640.3 L547.5,641.9 L548.0,644.0 L548.5,644.2 L549.0,644.7 L549.5,646.9 L550.0,646.1 L550.5,648.1 L551.0,648.0 L551.5,643.6 L552.0,643.2 L552.5,638.4 L553.0,637.2 L553.5,634.9 L554.0,631.0 L554.5,629.7 L555.0,627.8 L555.5,625.9 L556.0,624.0 L556.5,626.3 L557.0,626.6 L557.5,627.6 L558.0,630.2 L558.5,631.6 L559.0,631.8 L559.5,634.6 L560.0,636.0 L560.5,636.6 L561.0,636.4 L561.5,638.9 L562.0,639.9 L562.5,639.2 L563.0,641.7 L563.5,642.8 L564.0,642.0 L564.5,644.5 L565.0,645.7 L565.5,647.3 L566.0,650.0" fill="none" stroke="#ed7d31" stroke-width="1.4" stroke-linejoin="round"/>
<line x1="457.8" y1="461.2" x2="480.5" y2="461.2" stroke="#5b9bd5" stroke-width="1.3"/>
<text x="484" y="465.2" font-size="11.2" fill="#404040" stroke="#404040" stroke-width="0.05" textLength="79.3" lengthAdjust="spacingAndGlyphs">Measured TN04</text>
<line x1="457.8" y1="496" x2="480.5" y2="496" stroke="#ed7d31" stroke-width="1.3"/>
<text x="484" y="500" font-size="11.2" fill="#404040" stroke="#404040" stroke-width="0.05" textLength="50.6" lengthAdjust="spacingAndGlyphs">simulation</text>
</g></svg>
<div class="dlg">
<div class="a" style="left:3.0px;top:0.0px;width:1.0px;height:27.0px;background:#f8f8f8;"></div>
<div class="a" style="left:64.5px;top:5.6px;line-height:13px;font-size:11.2px;color:#1c1c1c;letter-spacing:0.15px">Layer/Material Name</div>
<div class="a" style="left:174.0px;top:2.0px;width:220.0px;height:21.0px;box-sizing:border-box;border:1px solid #a9a9a9;border-radius:2px;background:linear-gradient(#eeeeee,#e3e3e3);"></div>
<div class="a" style="left:177.6px;top:6.5px;line-height:13px;font-size:11.2px;color:#1c1c1c">Aerated Clay Brick (density: 600 kg/m³) (</div>
<div class="a" style="left:0.0px;top:47.0px;width:380.0px;height:1.0px;background:#8c8c8c;"></div>
<div class="a" style="left:0.0px;top:48.0px;width:380.0px;height:2.0px;background:#fdfdfd;"></div>
<div class="a" style="left:0.0px;top:28.0px;width:79.0px;height:20.0px;box-sizing:border-box;border:1px solid #8c8c8c;border-bottom:none;background:#fbfbfb;"></div>
<div class="a" style="left:4.8px;top:31.0px;line-height:13px;font-size:11.2px;color:#1c1c1c">Material Data</div>
<div class="a" style="left:78.0px;top:30.0px;width:38.0px;height:17.5px;box-sizing:border-box;border:1px solid #9a9a9a;border-bottom:none;background:linear-gradient(#f4f4f4,#e6e6e6 50%,#d8d8d8);"></div>
<div class="a" style="left:82.5px;top:33.1px;line-height:13px;font-size:11.6px;color:#1c1c1c">Info</div>
<div class="a" style="left:3.0px;top:60.0px;width:344.0px;height:114.0px;box-sizing:border-box;border:1px solid #c4c4c4;border-bottom:none;"></div>
<div class="a" style="left:5.5px;top:54.0px;width:81.5px;height:12.0px;background:#f0f0f0;"></div>
<div class="a" style="left:10.0px;top:55.9px;line-height:13px;font-size:11.2px;font-weight:bold;color:#1e1e78;display:inline-block;transform:scaleX(1.12);transform-origin:0 0;">Basic Values</div>
<div class="a" style="left:3.0px;top:71.0px;width:344.0px;height:103.0px;box-sizing:border-box;border:1px solid #b4b4b4;border-right:2px solid #b4b4b4;"></div>
<div class="a" style="left:3.0px;top:91.0px;width:343.0px;height:1.0px;background:#b4b4b4;"></div>
<div class="a" style="left:3.0px;top:112.0px;width:343.0px;height:1.0px;background:#b4b4b4;"></div>
<div class="a" style="left:3.0px;top:132.0px;width:343.0px;height:1.0px;background:#b4b4b4;"></div>
<div class="a" style="left:3.0px;top:153.0px;width:343.0px;height:1.0px;background:#b4b4b4;"></div>
<div class="a" style="left:282.0px;top:71.0px;width:1.0px;height:102.0px;background:#b4b4b4;"></div>
<div class="a" style="left:6.2px;top:75.7px;line-height:13px;font-size:11.2px;color:#1c1c1c">Bulk density [kg/m³]</div>
<div class="a" style="left:285.0px;top:75.7px;line-height:13px;font-size:11.2px;color:#1c1c1c">600.0</div>
<div class="a" style="left:6.2px;top:96.1px;line-height:13px;font-size:11.2px;color:#1c1c1c">Porosity [m³/m³]</div>
<div class="a" style="left:285.0px;top:96.1px;line-height:13px;font-size:11.2px;color:#1c1c1c">0.77</div>
<div class="a" style="left:6.2px;top:116.5px;line-height:13px;font-size:11.2px;color:#1c1c1c">Specific Heat Capacity, Dry [J/kgK]</div>
<div class="a" style="left:285.0px;top:116.5px;line-height:13px;font-size:11.2px;color:#1c1c1c">850.0</div>
<div class="a" style="left:6.2px;top:136.9px;line-height:13px;font-size:11.2px;color:#1c1c1c">Thermal Conductivity, Dry, 10°C [W/mK]</div>
<div class="a" style="left:285.0px;top:136.9px;line-height:13px;font-size:11.2px;color:#1c1c1c">0.4</div>
<div class="a" style="left:6.2px;top:157.3px;line-height:13px;font-size:11.2px;color:#1c1c1c">Water Vapour Diffusion Resistance Factor [ - ]</div>
<div class="a" style="left:285.0px;top:157.3px;line-height:13px;font-size:11.2px;color:#1c1c1c">16.0</div>
<div class="a" style="left:3.0px;top:185.0px;width:344.0px;height:114.0px;box-sizing:border-box;border:1px solid #c4c4c4;border-bottom:none;"></div>
<div class="a" style="left:7.0px;top:180.0px;width:140.0px;height:12.0px;background:#f0f0f0;"></div>
<div class="a" style="left:10.0px;top:181.1px;line-height:13px;font-size:11.2px;color:#38389e;">Approximation Parameters</div>
<div class="a" style="left:3.0px;top:196.0px;width:344.0px;height:103.0px;box-sizing:border-box;border:1px solid #b4b4b4;border-right:2px solid #b4b4b4;"></div>
<div class="a" style="left:3.0px;top:216.0px;width:343.0px;height:1.0px;background:#b4b4b4;"></div>
<div class="a" style="left:3.0px;top:237.0px;width:343.0px;height:1.0px;background:#b4b4b4;"></div>
<div class="a" style="left:3.0px;top:257.0px;width:343.0px;height:1.0px;background:#b4b4b4;"></div>
<div class="a" style="left:3.0px;top:278.0px;width:343.0px;height:1.0px;background:#b4b4b4;"></div>
<div class="a" style="left:282.0px;top:196.0px;width:1.0px;height:102.0px;background:#b4b4b4;"></div>
<div class="a" style="left:6.2px;top:201.3px;line-height:13px;font-size:11.2px;color:#1c1c1c">Reference Water Content [kg/m³]</div>
<div class="a" style="left:285.0px;top:201.3px;line-height:13px;font-size:11.2px;color:#1c1c1c">11.0</div>
<div class="a" style="left:6.2px;top:221.7px;line-height:13px;font-size:11.2px;color:#1c1c1c">Free Water Saturation [kg/m³]</div>
<div class="a" style="left:285.0px;top:221.7px;line-height:13px;font-size:11.2px;color:#1c1c1c">188.0</div>
<div class="a" style="left:6.2px;top:242.1px;line-height:13px;font-size:11.2px;color:#1c1c1c">Water Absorption Coefficient [kg/m²s^0.5]</div>
<div class="a" style="left:285.0px;top:242.1px;line-height:13px;font-size:11.2px;color:#1c1c1c">0.095</div>
<div class="a" style="left:6.2px;top:262.5px;line-height:13px;font-size:11.2px;color:#1c1c1c">Moisture-dep. Thermal Cond. Supplement [%/M.-%]</div>
<div class="a" style="left:285.0px;top:262.5px;line-height:13px;font-size:11.2px;color:#1c1c1c">10.0</div>
<div class="a" style="left:6.2px;top:282.9px;line-height:13px;font-size:11.2px;color:#1c1c1c">Temp-dep. Thermal Cond. Supplement [W/mK²]</div>
<div class="a" style="left:285.0px;top:282.9px;line-height:13px;font-size:11.2px;color:#1c1c1c">0.0002</div>
<div class="a" style="right:110.6px;top:310.6px;line-height:13px;font-size:11.2px;color:#1c1c1c">Typical Built-In Moisture [kg/m³]</div>
<div class="a" style="left:272.0px;top:306.0px;width:75.0px;height:20.0px;box-sizing:border-box;border:1px solid #d6d6d6;border-top-color:#a8a8a8;background:#fff;"></div>
<div class="a" style="left:276.0px;top:309.6px;line-height:13px;font-size:11.2px;color:#1c1c1c">100.0</div>
<div class="a" style="right:110.6px;top:335.8px;line-height:13px;font-size:11.2px;color:#1c1c1c">Layer thickness [m]</div>
<div class="a" style="left:272.0px;top:331.0px;width:75.0px;height:20.0px;box-sizing:border-box;border:1px solid #d6d6d6;border-top-color:#a8a8a8;background:#fff;"></div>
<div class="a" style="left:276.0px;top:334.4px;line-height:13px;font-size:11.2px;color:#1c1c1c">0.25</div>
<div class="a" style="left:238.6px;top:393.1px;line-height:13px;font-size:11.2px;color:#1c1c1c">Color</div>
<div class="a" style="left:273.0px;top:390.0px;width:74.0px;height:19.0px;box-sizing:border-box;border:1px solid #747474;border-radius:3px;background:linear-gradient(#f3f3f3,#dadada);"></div>
<div class="a" style="left:275.5px;top:393.0px;width:58.5px;height:13.0px;background:#f50000;"></div>
<div class="a" style="left:334.5px;top:392.0px;width:1.0px;height:15.0px;background:#b0b0b0;"></div>
<div class="a" style="left:339.5px;top:398.5px;width:0;height:0;border-left:2.5px solid transparent;border-right:2.5px solid transparent;border-top:3px solid #111;"></div>
<div class="a" style="left:357.0px;top:49.1px;line-height:13px;font-size:11.6px;color:#28288e;font-weight:bold;">Hydr</div>
<div class="a" style="left:352.0px;top:63.0px;width:40.0px;height:97.0px;box-sizing:border-box;border:1px solid #9c9c9c;background:#fff;"></div>
<div class="a" style="left:354.0px;top:64.0px;width:30.0px;height:13.0px;background:linear-gradient(#4aa3ff,#2f8cf0);"></div>
<div class="a" style="left:356.0px;top:63.6px;line-height:13px;font-size:12px;color:#fff">Moisture</div>
<div class="a" style="left:356.0px;top:77.3px;line-height:13px;font-size:12px;color:#111">Liquid</div>
<div class="a" style="left:356.0px;top:91.0px;line-height:13px;font-size:12px;color:#111">Liquid</div>
<div class="a" style="left:356.0px;top:104.7px;line-height:13px;font-size:12px;color:#111">Water</div>
<div class="a" style="left:356.0px;top:118.4px;line-height:13px;font-size:12px;color:#111">Therm</div>
<div class="a" style="left:356.0px;top:132.1px;line-height:13px;font-size:12px;color:#111">Therm</div>
<div class="a" style="left:356.0px;top:145.8px;line-height:13px;font-size:12px;color:#111">Enthalpy</div>
<div class="a" style="left:354.0px;top:172.0px;width:40.0px;height:18.5px;box-sizing:border-box;border:1px solid #9a9a9a;border-bottom:none;background:linear-gradient(#f4f4f4,#dedede);"></div>
<div class="a" style="left:359.8px;top:174.7px;line-height:13px;font-size:11.6px;color:#1c1c1c">Graph</div>
<div class="a" style="left:352.0px;top:190.0px;width:40.0px;height:222.0px;box-sizing:border-box;border:1px solid #a0a0a0;border-right:none;"></div>
<div class="a" style="left:353.0px;top:191.0px;width:3.5px;height:219.0px;background:#fbfbfb;"></div>
<div class="a" style="left:362.0px;top:198.0px;width:11.0px;height:11.0px;box-sizing:border-box;border:1px solid #8a8a8a;background:linear-gradient(#dfe3ea,#f6f7fa);"></div>
<svg class="a" style="left:362px;top:198px;" width="11" height="11"><path d="M2.8,5.2 L4.6,8.3 L8.6,2.4" fill="none" stroke="#3d4c78" stroke-width="1.9" stroke-linecap="round" stroke-linejoin="round"/></svg>
<div class="a" style="left:357.0px;top:217.0px;width:30.0px;height:177.0px;box-sizing:border-box;border:1px solid #b4b4b4;border-right:none;background:#f0f0f0;"></div>
<div class="a" style="left:357.0px;top:251.0px;width:30.0px;height:1.0px;background:#b4b4b4;"></div>
<div class="a" style="left:357.0px;top:271.0px;width:30.0px;height:1.0px;background:#b4b4b4;"></div>
<div class="a" style="left:360.2px;top:254.3px;line-height:13px;font-size:11.6px;color:#1c1c1c">1</div>
<div class="a" style="left:357.0px;top:292.0px;width:30.0px;height:1.0px;background:#b4b4b4;"></div>
<div class="a" style="left:360.2px;top:274.7px;line-height:13px;font-size:11.6px;color:#1c1c1c">2</div>
<div class="a" style="left:357.0px;top:312.0px;width:30.0px;height:1.0px;background:#b4b4b4;"></div>
<div class="a" style="left:360.2px;top:295.1px;line-height:13px;font-size:11.6px;color:#1c1c1c">3</div>
<div class="a" style="left:357.0px;top:332.0px;width:30.0px;height:1.0px;background:#b4b4b4;"></div>
<div class="a" style="left:360.2px;top:315.5px;line-height:13px;font-size:11.6px;color:#1c1c1c">4</div>
<div class="a" style="left:357.0px;top:353.0px;width:30.0px;height:1.0px;background:#b4b4b4;"></div>
<div class="a" style="left:360.2px;top:335.9px;line-height:13px;font-size:11.6px;color:#1c1c1c">5</div>
<div class="a" style="left:357.0px;top:373.0px;width:30.0px;height:1.0px;background:#b4b4b4;"></div>
<div class="a" style="left:360.2px;top:356.3px;line-height:13px;font-size:11.6px;color:#1c1c1c">6</div>
<div class="a" style="left:357.0px;top:394.0px;width:30.0px;height:1.0px;background:#b4b4b4;"></div>
<div class="a" style="left:360.2px;top:376.7px;line-height:13px;font-size:11.6px;color:#1c1c1c">7</div>
<div class="a" style="left:362.0px;top:227.7px;line-height:13px;font-size:11.6px;color:#1c1c1c">No</div>
<div class="a" style="left:360.2px;top:394.3px;line-height:13px;font-size:11.6px;color:#38389e">Co</div>
</div>
</body></html>
